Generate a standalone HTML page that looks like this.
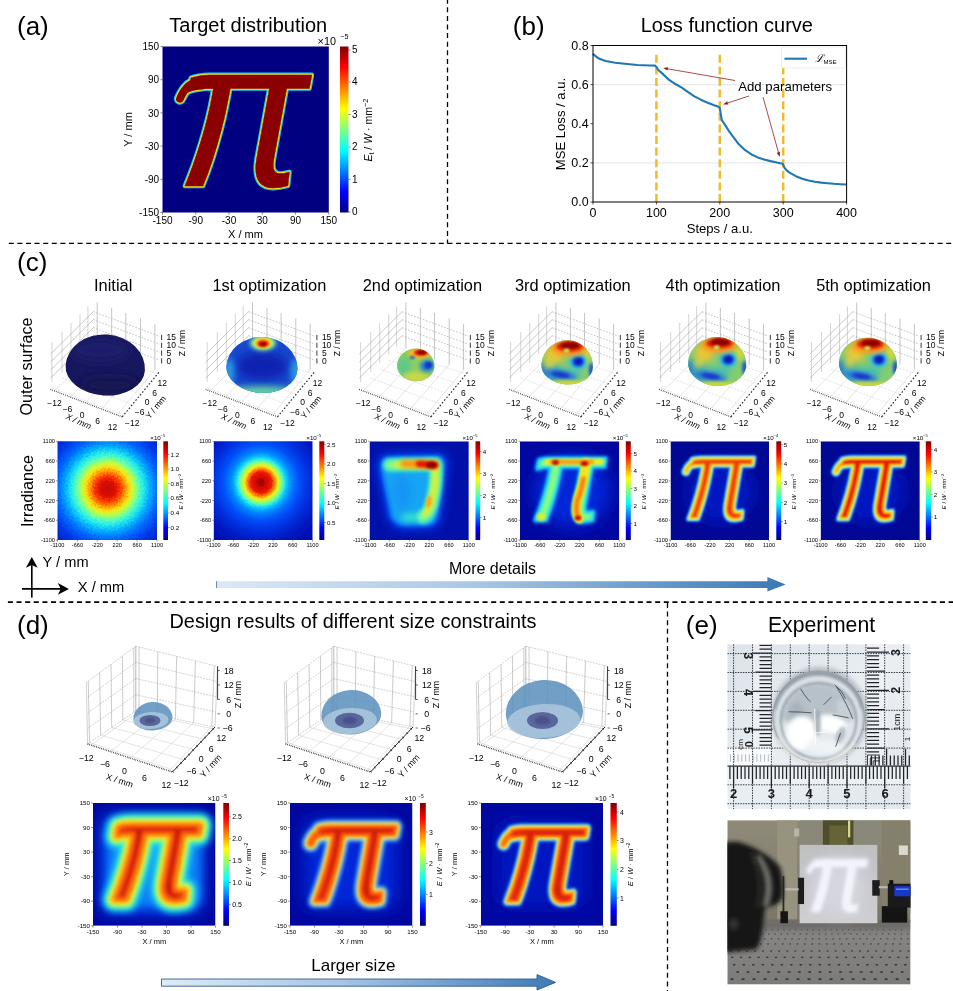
<!DOCTYPE html>
<html lang="en"><head><meta charset="utf-8"><title>Figure</title>
<style>
html,body{margin:0;padding:0;background:#fff;}
body{width:953px;height:991px;overflow:hidden;}
svg{display:block;font-family:'Liberation Sans',sans-serif;}
text{white-space:pre;}
</style></head><body>
<svg width="953" height="991" viewBox="0 0 953 991">
<defs>
<linearGradient id="jetv" x1="0" y1="1" x2="0" y2="0">
<stop offset="0" stop-color="#000080"/><stop offset="0.11" stop-color="#0000f0"/><stop offset="0.125" stop-color="#0000ff"/>
<stop offset="0.25" stop-color="#0080ff"/><stop offset="0.375" stop-color="#00ffff"/><stop offset="0.5" stop-color="#80ff80"/>
<stop offset="0.625" stop-color="#ffff00"/><stop offset="0.75" stop-color="#ff8000"/><stop offset="0.875" stop-color="#ff0000"/><stop offset="1" stop-color="#800000"/>
</linearGradient>
<filter id="b04" filterUnits="userSpaceOnUse" x="0" y="0" width="953" height="991"><feGaussianBlur stdDeviation="0.45"/></filter>
<filter id="b1" filterUnits="userSpaceOnUse" x="0" y="0" width="953" height="991"><feGaussianBlur stdDeviation="1"/></filter>
<filter id="b15" filterUnits="userSpaceOnUse" x="0" y="0" width="953" height="991"><feGaussianBlur stdDeviation="1.5"/></filter>
<filter id="b2" filterUnits="userSpaceOnUse" x="0" y="0" width="953" height="991"><feGaussianBlur stdDeviation="2"/></filter>
<filter id="b3" filterUnits="userSpaceOnUse" x="0" y="0" width="953" height="991"><feGaussianBlur stdDeviation="3"/></filter>
<filter id="b5" filterUnits="userSpaceOnUse" x="0" y="0" width="953" height="991"><feGaussianBlur stdDeviation="5"/></filter>
<filter id="b8" filterUnits="userSpaceOnUse" x="0" y="0" width="953" height="991"><feGaussianBlur stdDeviation="8"/></filter>
<radialGradient id="rg1" gradientUnits="userSpaceOnUse" cx="107.5" cy="488.8" r="72"><stop offset="0.000" stop-color="#c00808"/><stop offset="0.111" stop-color="#dc1000"/><stop offset="0.181" stop-color="#ff3800"/><stop offset="0.243" stop-color="#ff9000"/><stop offset="0.306" stop-color="#ffe010"/><stop offset="0.361" stop-color="#c0ff40"/><stop offset="0.417" stop-color="#70ffa0"/><stop offset="0.493" stop-color="#28f0e8"/><stop offset="0.597" stop-color="#00a8ff"/><stop offset="0.694" stop-color="#0068ff"/><stop offset="0.833" stop-color="#0038e8"/><stop offset="1.000" stop-color="#0020c8"/></radialGradient>
<filter id="nzrg1" filterUnits="userSpaceOnUse" x="45.5" y="429.3" width="123.5" height="122.69999999999999"><feTurbulence type="fractalNoise" baseFrequency="0.55" numOctaves="2" seed="7" result="n"/><feDisplacementMap in="SourceGraphic" in2="n" scale="7" xChannelSelector="R" yChannelSelector="G"/></filter>
<radialGradient id="rg2" gradientUnits="userSpaceOnUse" cx="261" cy="482.5" r="75"><stop offset="0.000" stop-color="#980000"/><stop offset="0.067" stop-color="#c80800"/><stop offset="0.140" stop-color="#f01800"/><stop offset="0.180" stop-color="#ff8000"/><stop offset="0.220" stop-color="#ffe818"/><stop offset="0.260" stop-color="#a0ff60"/><stop offset="0.300" stop-color="#40f8d0"/><stop offset="0.347" stop-color="#08c0ff"/><stop offset="0.413" stop-color="#0080ff"/><stop offset="0.507" stop-color="#0050f8"/><stop offset="0.640" stop-color="#0030e0"/><stop offset="0.800" stop-color="#0018c0"/><stop offset="1.000" stop-color="#0008a8"/></radialGradient>
<filter id="nzrg2" filterUnits="userSpaceOnUse" x="201.8" y="429.3" width="122.69999999999999" height="122.69999999999999"><feTurbulence type="fractalNoise" baseFrequency="0.55" numOctaves="2" seed="7" result="n"/><feDisplacementMap in="SourceGraphic" in2="n" scale="2.5" xChannelSelector="R" yChannelSelector="G"/></filter>
<filter id="er15" filterUnits="userSpaceOnUse" x="0" y="0" width="953" height="991"><feMorphology operator="erode" radius="1.5"/></filter>
<filter id="er8" filterUnits="userSpaceOnUse" x="0" y="0" width="953" height="991"><feMorphology operator="erode" radius="0.8"/></filter>
<filter id="er18" filterUnits="userSpaceOnUse" x="0" y="0" width="953" height="991"><feMorphology operator="erode" radius="1.8"/></filter>
<filter id="er6" filterUnits="userSpaceOnUse" x="0" y="0" width="953" height="991"><feMorphology operator="erode" radius="0.6"/></filter>
<linearGradient id="ga1" x1="0" y1="0" x2="1" y2="0"><stop offset="0" stop-color="#dce8f4"/><stop offset="0.45" stop-color="#a9c8e6"/><stop offset="1" stop-color="#3a78b4"/></linearGradient>
<filter id="er38" filterUnits="userSpaceOnUse" x="0" y="0" width="953" height="991"><feMorphology operator="erode" radius="3.75"/></filter>
<filter id="er16" filterUnits="userSpaceOnUse" x="0" y="0" width="953" height="991"><feMorphology operator="erode" radius="1.6"/></filter>
<filter id="er35" filterUnits="userSpaceOnUse" x="0" y="0" width="953" height="991"><feMorphology operator="erode" radius="3.5"/></filter>
<filter id="er20" filterUnits="userSpaceOnUse" x="0" y="0" width="953" height="991"><feMorphology operator="erode" radius="2.0"/></filter>
<linearGradient id="ga2" x1="0" y1="0" x2="1" y2="0"><stop offset="0" stop-color="#dfeaf6"/><stop offset="0.45" stop-color="#a8c6e4"/><stop offset="1" stop-color="#3d7ab6"/></linearGradient>
<linearGradient id="pg1" x1="0" y1="0" x2="1" y2="1"><stop offset="0" stop-color="#dce3e9"/><stop offset="0.5" stop-color="#e9eef2"/><stop offset="1" stop-color="#e1e7ec"/></linearGradient>
<radialGradient id="lens1" gradientUnits="userSpaceOnUse" cx="818.6" cy="719.8" r="46.2"><stop offset="0" stop-color="#eef2f5"/><stop offset="0.6" stop-color="#e3e8ec"/><stop offset="0.8" stop-color="#cdd4da"/><stop offset="0.9" stop-color="#dde2e6"/><stop offset="0.97" stop-color="#bcc4cb"/><stop offset="1" stop-color="#a4adb5"/></radialGradient>
<linearGradient id="wall" x1="0" y1="0" x2="0" y2="1"><stop offset="0" stop-color="#8f8a78"/><stop offset="1" stop-color="#7a766a"/></linearGradient>
<linearGradient id="floor" x1="0" y1="0" x2="0" y2="1"><stop offset="0" stop-color="#6f6e6a"/><stop offset="0.25" stop-color="#858482"/><stop offset="1" stop-color="#7c7b79"/></linearGradient>
<linearGradient id="scr" x1="0" y1="0" x2="0" y2="1"><stop offset="0" stop-color="#bfc0c2"/><stop offset="1" stop-color="#cfcfd2"/></linearGradient></defs>
<rect width="953" height="991" fill="#fff"/>
<text x="17.00" y="34.60" font-size="26">(a)</text>
<text x="248.30" y="32.20" font-size="20" text-anchor="middle">Target distribution</text>
<clipPath id="ca"><rect x="162.50" y="46.50" width="166.30" height="166.00"/></clipPath>
<rect x="162.50" y="46.50" width="166.30" height="166.00" fill="#000080" />
<g clip-path="url(#ca)">
<g filter="url(#b04)" font-family="'Liberation Sans', sans-serif" font-style="italic" font-size="210.28" stroke-linejoin="round" stroke-linecap="round" >
<g fill="#19c6e8" stroke="#19c6e8" stroke-width="4.8">
<text transform="translate(176.07 185.95) scale(0.9436 1)">π</text>
<path d="M200.12 81.86 Q187.52 81.25 179.96 98.69" fill="none" stroke="#19c6e8" stroke-width="12.16"/>
</g>
<g fill="#e8e020" stroke="#e8e020" stroke-width="2.6">
<text transform="translate(176.07 185.95) scale(0.9436 1)">π</text>
<path d="M200.12 81.86 Q187.52 81.25 179.96 98.69" fill="none" stroke="#e8e020" stroke-width="9.96"/>
</g>
<g fill="#8a0000" stroke="#8a0000" stroke-width="0.4">
<text transform="translate(176.07 185.95) scale(0.9436 1)">π</text>
<path d="M200.12 81.86 Q187.52 81.25 179.96 98.69" fill="none" stroke="#8a0000" stroke-width="7.76"/>
</g>
</g>
</g>
<text x="159.10" y="50.10" font-size="10" text-anchor="end">150</text>
<line x1="160.50" y1="46.50" x2="162.50" y2="46.50" stroke="#000" stroke-width="0.5" />
<text x="328.80" y="224.30" font-size="10" text-anchor="middle">150</text>
<line x1="328.80" y1="212.50" x2="328.80" y2="214.50" stroke="#000" stroke-width="0.5" />
<text x="159.10" y="83.30" font-size="10" text-anchor="end">90</text>
<line x1="160.50" y1="79.70" x2="162.50" y2="79.70" stroke="#000" stroke-width="0.5" />
<text x="295.54" y="224.30" font-size="10" text-anchor="middle">90</text>
<line x1="295.54" y1="212.50" x2="295.54" y2="214.50" stroke="#000" stroke-width="0.5" />
<text x="159.10" y="116.50" font-size="10" text-anchor="end">30</text>
<line x1="160.50" y1="112.90" x2="162.50" y2="112.90" stroke="#000" stroke-width="0.5" />
<text x="262.28" y="224.30" font-size="10" text-anchor="middle">30</text>
<line x1="262.28" y1="212.50" x2="262.28" y2="214.50" stroke="#000" stroke-width="0.5" />
<text x="159.10" y="149.70" font-size="10" text-anchor="end">-30</text>
<line x1="160.50" y1="146.10" x2="162.50" y2="146.10" stroke="#000" stroke-width="0.5" />
<text x="229.02" y="224.30" font-size="10" text-anchor="middle">-30</text>
<line x1="229.02" y1="212.50" x2="229.02" y2="214.50" stroke="#000" stroke-width="0.5" />
<text x="159.10" y="182.90" font-size="10" text-anchor="end">-90</text>
<line x1="160.50" y1="179.30" x2="162.50" y2="179.30" stroke="#000" stroke-width="0.5" />
<text x="195.76" y="224.30" font-size="10" text-anchor="middle">-90</text>
<line x1="195.76" y1="212.50" x2="195.76" y2="214.50" stroke="#000" stroke-width="0.5" />
<text x="159.10" y="216.10" font-size="10" text-anchor="end">-150</text>
<line x1="160.50" y1="212.50" x2="162.50" y2="212.50" stroke="#000" stroke-width="0.5" />
<text x="162.50" y="224.30" font-size="10" text-anchor="middle">-150</text>
<line x1="162.50" y1="212.50" x2="162.50" y2="214.50" stroke="#000" stroke-width="0.5" />
<text x="131.50" y="129.50" font-size="11" text-anchor="middle" transform="rotate(-90 131.50 129.50)">Y / mm</text>
<text x="245.50" y="237.60" font-size="11" text-anchor="middle">X / mm</text>
<rect x="340.00" y="46.50" width="8.50" height="166.00" fill="url(#jetv)" />
<line x1="348.50" y1="50.00" x2="350.50" y2="50.00" stroke="#000" stroke-width="0.5" />
<text x="352.10" y="53.30" font-size="10">5</text>
<line x1="348.50" y1="82.00" x2="350.50" y2="82.00" stroke="#000" stroke-width="0.5" />
<text x="352.10" y="85.30" font-size="10">4</text>
<line x1="348.50" y1="114.50" x2="350.50" y2="114.50" stroke="#000" stroke-width="0.5" />
<text x="352.10" y="117.80" font-size="10">3</text>
<line x1="348.50" y1="147.00" x2="350.50" y2="147.00" stroke="#000" stroke-width="0.5" />
<text x="352.10" y="150.30" font-size="10">2</text>
<line x1="348.50" y1="179.30" x2="350.50" y2="179.30" stroke="#000" stroke-width="0.5" />
<text x="352.10" y="182.60" font-size="10">1</text>
<line x1="348.50" y1="212.00" x2="350.50" y2="212.00" stroke="#000" stroke-width="0.5" />
<text x="352.10" y="215.30" font-size="10">0</text>
<text x="317.60" y="45.20" font-size="10.8">×10</text>
<text x="340.20" y="39.00" font-size="7.2">−5</text>
<text transform="translate(372.3 130) rotate(-90)" font-size="10.5" text-anchor="middle"><tspan font-style="italic">E</tspan><tspan font-size="7" dy="2">t</tspan><tspan dy="-2"> / </tspan><tspan font-style="italic">W</tspan> · mm<tspan font-size="7.5" dy="-4">−2</tspan></text>
<line x1="8.80" y1="243.40" x2="953.00" y2="243.40" stroke="#000" stroke-width="1.3" stroke-dasharray="5 3.6"/>
<line x1="447.50" y1="-1.30" x2="447.50" y2="243.50" stroke="#000" stroke-width="1.3" stroke-dasharray="5 3.6"/>
<text x="512.80" y="34.60" font-size="26">(b)</text>
<text x="726.80" y="32.20" font-size="20" text-anchor="middle">Loss function curve</text>
<line x1="593.00" y1="162.88" x2="846.60" y2="162.88" stroke="#dcdcdc" stroke-width="0.8" />
<line x1="593.00" y1="84.63" x2="846.60" y2="84.63" stroke="#dcdcdc" stroke-width="0.8" />
<line x1="656.40" y1="202.00" x2="656.40" y2="52.50" stroke="#f2b92c" stroke-width="2.5" stroke-dasharray="8 3.6"/>
<line x1="719.80" y1="202.00" x2="719.80" y2="52.50" stroke="#f2b92c" stroke-width="2.5" stroke-dasharray="8 3.6"/>
<line x1="783.20" y1="202.00" x2="783.20" y2="52.50" stroke="#f2b92c" stroke-width="2.5" stroke-dasharray="8 3.6"/>
<path d="M593.00 53.72 L594.90 55.67 L599.34 58.80 L605.68 60.95 L615.19 62.72 L624.70 63.69 L637.38 65.06 L650.06 65.45 L655.13 65.65 L656.40 67.02 L658.30 69.95 L662.74 73.87 L669.08 79.93 L675.42 84.04 L681.76 87.56 L688.10 92.06 L694.44 96.36 L700.78 99.69 L707.12 102.43 L713.46 104.97 L718.53 106.73 L719.80 108.10 L720.43 112.01 L721.70 119.84 L723.60 122.77 L726.14 126.68 L729.31 131.57 L732.48 135.88 L738.82 144.29 L745.16 150.16 L751.50 154.46 L757.84 157.40 L764.18 159.55 L770.52 161.11 L776.86 162.48 L782.57 163.66 L783.20 164.83 L784.47 167.77 L786.37 170.11 L789.54 172.66 L795.88 176.18 L802.22 178.72 L808.56 180.48 L814.90 181.75 L821.24 182.63 L827.58 183.22 L833.92 183.81 L840.26 184.20 L846.60 184.49" fill="none" stroke="#1f77b4" stroke-width="2.1" stroke-linejoin="round"/>
<rect x="781.50" y="47.00" width="64.30" height="21.00" fill="#fff" stroke="#e4e4e4" stroke-width="0.7" rx="1.5"/>
<line x1="784.50" y1="58.70" x2="807.00" y2="58.70" stroke="#1f77b4" stroke-width="2.1" />
<text x="814.5" y="62" font-size="10.5" font-family="'Liberation Serif', serif" font-style="italic">ℒ<tspan font-family="'Liberation Sans', sans-serif" font-style="normal" font-size="6" dy="2">MSE</tspan></text>
<rect x="593.00" y="45.50" width="253.60" height="156.50" fill="none" stroke="#000" stroke-width="1.0" />
<line x1="590.50" y1="202.00" x2="593.00" y2="202.00" stroke="#000" stroke-width="0.7" />
<text x="588.60" y="206.40" font-size="12.5" text-anchor="end">0.0</text>
<line x1="590.50" y1="162.88" x2="593.00" y2="162.88" stroke="#000" stroke-width="0.7" />
<text x="588.60" y="167.28" font-size="12.5" text-anchor="end">0.2</text>
<line x1="590.50" y1="123.75" x2="593.00" y2="123.75" stroke="#000" stroke-width="0.7" />
<text x="588.60" y="128.15" font-size="12.5" text-anchor="end">0.4</text>
<line x1="590.50" y1="84.63" x2="593.00" y2="84.63" stroke="#000" stroke-width="0.7" />
<text x="588.60" y="89.03" font-size="12.5" text-anchor="end">0.6</text>
<line x1="590.50" y1="45.50" x2="593.00" y2="45.50" stroke="#000" stroke-width="0.7" />
<text x="588.60" y="49.90" font-size="12.5" text-anchor="end">0.8</text>
<line x1="593.00" y1="202.00" x2="593.00" y2="204.50" stroke="#000" stroke-width="0.7" />
<text x="593.00" y="216.80" font-size="12.5" text-anchor="middle">0</text>
<line x1="656.40" y1="202.00" x2="656.40" y2="204.50" stroke="#000" stroke-width="0.7" />
<text x="656.40" y="216.80" font-size="12.5" text-anchor="middle">100</text>
<line x1="719.80" y1="202.00" x2="719.80" y2="204.50" stroke="#000" stroke-width="0.7" />
<text x="719.80" y="216.80" font-size="12.5" text-anchor="middle">200</text>
<line x1="783.20" y1="202.00" x2="783.20" y2="204.50" stroke="#000" stroke-width="0.7" />
<text x="783.20" y="216.80" font-size="12.5" text-anchor="middle">300</text>
<line x1="846.60" y1="202.00" x2="846.60" y2="204.50" stroke="#000" stroke-width="0.7" />
<text x="846.60" y="216.80" font-size="12.5" text-anchor="middle">400</text>
<text x="565.30" y="124.00" font-size="13.1" text-anchor="middle" transform="rotate(-90 565.30 124.00)">MSE Loss / a.u.</text>
<text x="719.80" y="232.80" font-size="13.1" text-anchor="middle">Steps / a.u.</text>
<text x="738.20" y="90.50" font-size="13.2">Add parameters</text>
<line x1="735.00" y1="80.50" x2="667.93" y2="68.86" stroke="#9c1c1c" stroke-width="0.8" />
<polygon points="663.00,68.00 668.22,67.18 667.64,70.53" fill="#9c1c1c"/>
<line x1="749.00" y1="96.00" x2="727.75" y2="102.95" stroke="#9c1c1c" stroke-width="0.8" />
<polygon points="723.00,104.50 727.22,101.33 728.28,104.56" fill="#9c1c1c"/>
<line x1="763.00" y1="97.00" x2="778.36" y2="152.18" stroke="#9c1c1c" stroke-width="0.8" />
<polygon points="779.70,157.00 776.72,152.64 780.00,151.73" fill="#9c1c1c"/>
<text x="17.00" y="270.60" font-size="26">(c)</text>
<text x="113.20" y="291.00" font-size="16.4" text-anchor="middle">Initial</text>
<text x="269.40" y="291.00" font-size="16.4" text-anchor="middle">1st optimization</text>
<text x="422.40" y="291.00" font-size="16.4" text-anchor="middle">2nd optimization</text>
<text x="572.80" y="291.00" font-size="16.4" text-anchor="middle">3rd optimization</text>
<text x="723.00" y="291.00" font-size="16.4" text-anchor="middle">4th optimization</text>
<text x="873.60" y="291.00" font-size="16.4" text-anchor="middle">5th optimization</text>
<text x="31.50" y="366.50" font-size="16.2" text-anchor="middle" transform="rotate(-90 31.50 366.50)">Outer surface</text>
<text x="32.50" y="491.00" font-size="16.2" text-anchor="middle" transform="rotate(-90 32.50 491.00)">Irradiance</text>
<g fill="none"><line x1="54.73" y1="391.02" x2="97.21" y2="348.45" stroke="#cfcfcf" stroke-width="0.55"/><line x1="70.36" y1="397.02" x2="111.67" y2="353.79" stroke="#cfcfcf" stroke-width="0.55"/><line x1="85.63" y1="402.88" x2="125.79" y2="359.00" stroke="#cfcfcf" stroke-width="0.55"/><line x1="101.55" y1="408.98" x2="140.51" y2="364.44" stroke="#cfcfcf" stroke-width="0.55"/><line x1="117.11" y1="414.95" x2="154.89" y2="369.76" stroke="#cfcfcf" stroke-width="0.55"/><line x1="51.91" y1="388.00" x2="123.70" y2="415.08" stroke="#cfcfcf" stroke-width="0.55" stroke-dasharray="2.2 1.2"/><line x1="62.01" y1="377.99" x2="132.30" y2="404.64" stroke="#cfcfcf" stroke-width="0.55" stroke-dasharray="2.2 1.2"/><line x1="71.00" y1="369.09" x2="140.90" y2="394.20" stroke="#cfcfcf" stroke-width="0.55" stroke-dasharray="2.2 1.2"/><line x1="79.99" y1="360.19" x2="149.50" y2="383.76" stroke="#cfcfcf" stroke-width="0.55" stroke-dasharray="2.2 1.2"/><line x1="87.91" y1="352.34" x2="157.73" y2="373.77" stroke="#cfcfcf" stroke-width="0.55" stroke-dasharray="2.2 1.2"/><line x1="51.91" y1="382.00" x2="51.91" y2="342.00" stroke="#c2c2c2" stroke-width="0.7"/><line x1="62.01" y1="371.99" x2="62.01" y2="331.99" stroke="#c2c2c2" stroke-width="0.7"/><line x1="71.00" y1="363.09" x2="71.00" y2="323.09" stroke="#c2c2c2" stroke-width="0.7"/><line x1="79.99" y1="354.19" x2="79.99" y2="314.19" stroke="#c2c2c2" stroke-width="0.7"/><line x1="87.91" y1="346.34" x2="87.91" y2="306.34" stroke="#c2c2c2" stroke-width="0.7"/><line x1="97.21" y1="348.45" x2="97.21" y2="302.45" stroke="#b2b2b2" stroke-width="0.75"/><line x1="111.67" y1="353.79" x2="111.67" y2="307.79" stroke="#b2b2b2" stroke-width="0.75"/><line x1="125.79" y1="359.00" x2="125.79" y2="313.00" stroke="#b2b2b2" stroke-width="0.75"/><line x1="140.51" y1="364.44" x2="140.51" y2="318.44" stroke="#b2b2b2" stroke-width="0.75"/><line x1="154.89" y1="369.76" x2="154.89" y2="323.76" stroke="#b2b2b2" stroke-width="0.75"/><line x1="93.30" y1="335.70" x2="50.50" y2="378.10" stroke="#a2a2a2" stroke-width="0.6"/><line x1="93.30" y1="335.70" x2="159.60" y2="360.20" stroke="#9c9c9c" stroke-width="0.6" stroke-dasharray="1.7 1.5"/><line x1="93.30" y1="327.70" x2="50.50" y2="370.10" stroke="#a2a2a2" stroke-width="0.6"/><line x1="93.30" y1="327.70" x2="159.60" y2="352.20" stroke="#9c9c9c" stroke-width="0.6" stroke-dasharray="1.7 1.5"/><line x1="93.30" y1="319.70" x2="50.50" y2="362.10" stroke="#a2a2a2" stroke-width="0.6"/><line x1="93.30" y1="319.70" x2="159.60" y2="344.20" stroke="#9c9c9c" stroke-width="0.6" stroke-dasharray="1.7 1.5"/><line x1="93.30" y1="311.70" x2="50.50" y2="354.10" stroke="#a2a2a2" stroke-width="0.6"/><line x1="93.30" y1="311.70" x2="159.60" y2="336.20" stroke="#9c9c9c" stroke-width="0.6" stroke-dasharray="1.7 1.5"/><line x1="50.50" y1="389.40" x2="122.20" y2="416.90" stroke="#222" stroke-width="1.3" stroke-dasharray="0.7 1.25"/><line x1="122.20" y1="416.90" x2="159.60" y2="371.50" stroke="#222" stroke-width="1.1" stroke-dasharray="1.6 1.9"/><line x1="161.60" y1="363.50" x2="161.60" y2="332.50" stroke="#222" stroke-width="0.9" stroke-dasharray="5.2 2.6"/></g>
<text x="166.60" y="340.00" font-size="8.5">15</text>
<text x="166.60" y="348.00" font-size="8.5">10</text>
<text x="166.60" y="356.00" font-size="8.5">5</text>
<text x="166.60" y="364.00" font-size="8.5">0</text>
<text x="184.80" y="343.00" font-size="8.5" text-anchor="middle" transform="rotate(-90 184.80 343.00)">Z / mm</text>
<text x="54.50" y="405.75" font-size="8.5" text-anchor="middle">−12</text>
<text x="67.50" y="411.50" font-size="8.5" text-anchor="middle">−6</text>
<text x="82.00" y="417.50" font-size="8.5" text-anchor="middle">0</text>
<text x="97.50" y="423.50" font-size="8.5" text-anchor="middle">6</text>
<text x="112.50" y="429.50" font-size="8.5" text-anchor="middle">12</text>
<text x="77.50" y="424.00" font-size="8.5" text-anchor="middle" transform="rotate(24 77.50 424.00)" font-style="italic">X / mm</text>
<text x="132.20" y="426.00" font-size="8.5" text-anchor="middle">−12</text>
<text x="139.70" y="415.00" font-size="8.5" text-anchor="middle">−6</text>
<text x="147.20" y="405.00" font-size="8.5" text-anchor="middle">0</text>
<text x="154.70" y="396.00" font-size="8.5" text-anchor="middle">6</text>
<text x="162.20" y="385.50" font-size="8.5" text-anchor="middle">12</text>
<text x="158.00" y="409.00" font-size="8.5" text-anchor="middle" transform="rotate(-50 158.00 409.00)">Y / mm</text>
<g fill="none"><line x1="210.03" y1="391.02" x2="252.51" y2="348.45" stroke="#cfcfcf" stroke-width="0.55"/><line x1="225.66" y1="397.02" x2="266.97" y2="353.79" stroke="#cfcfcf" stroke-width="0.55"/><line x1="240.93" y1="402.88" x2="281.09" y2="359.00" stroke="#cfcfcf" stroke-width="0.55"/><line x1="256.85" y1="408.98" x2="295.81" y2="364.44" stroke="#cfcfcf" stroke-width="0.55"/><line x1="272.41" y1="414.95" x2="310.19" y2="369.76" stroke="#cfcfcf" stroke-width="0.55"/><line x1="207.21" y1="388.00" x2="279.00" y2="415.08" stroke="#cfcfcf" stroke-width="0.55" stroke-dasharray="2.2 1.2"/><line x1="217.31" y1="377.99" x2="287.60" y2="404.64" stroke="#cfcfcf" stroke-width="0.55" stroke-dasharray="2.2 1.2"/><line x1="226.30" y1="369.09" x2="296.20" y2="394.20" stroke="#cfcfcf" stroke-width="0.55" stroke-dasharray="2.2 1.2"/><line x1="235.29" y1="360.19" x2="304.80" y2="383.76" stroke="#cfcfcf" stroke-width="0.55" stroke-dasharray="2.2 1.2"/><line x1="243.21" y1="352.34" x2="313.03" y2="373.77" stroke="#cfcfcf" stroke-width="0.55" stroke-dasharray="2.2 1.2"/><line x1="207.21" y1="382.00" x2="207.21" y2="342.00" stroke="#c2c2c2" stroke-width="0.7"/><line x1="217.31" y1="371.99" x2="217.31" y2="331.99" stroke="#c2c2c2" stroke-width="0.7"/><line x1="226.30" y1="363.09" x2="226.30" y2="323.09" stroke="#c2c2c2" stroke-width="0.7"/><line x1="235.29" y1="354.19" x2="235.29" y2="314.19" stroke="#c2c2c2" stroke-width="0.7"/><line x1="243.21" y1="346.34" x2="243.21" y2="306.34" stroke="#c2c2c2" stroke-width="0.7"/><line x1="252.51" y1="348.45" x2="252.51" y2="302.45" stroke="#b2b2b2" stroke-width="0.75"/><line x1="266.97" y1="353.79" x2="266.97" y2="307.79" stroke="#b2b2b2" stroke-width="0.75"/><line x1="281.09" y1="359.00" x2="281.09" y2="313.00" stroke="#b2b2b2" stroke-width="0.75"/><line x1="295.81" y1="364.44" x2="295.81" y2="318.44" stroke="#b2b2b2" stroke-width="0.75"/><line x1="310.19" y1="369.76" x2="310.19" y2="323.76" stroke="#b2b2b2" stroke-width="0.75"/><line x1="248.60" y1="335.70" x2="205.80" y2="378.10" stroke="#a2a2a2" stroke-width="0.6"/><line x1="248.60" y1="335.70" x2="314.90" y2="360.20" stroke="#9c9c9c" stroke-width="0.6" stroke-dasharray="1.7 1.5"/><line x1="248.60" y1="327.70" x2="205.80" y2="370.10" stroke="#a2a2a2" stroke-width="0.6"/><line x1="248.60" y1="327.70" x2="314.90" y2="352.20" stroke="#9c9c9c" stroke-width="0.6" stroke-dasharray="1.7 1.5"/><line x1="248.60" y1="319.70" x2="205.80" y2="362.10" stroke="#a2a2a2" stroke-width="0.6"/><line x1="248.60" y1="319.70" x2="314.90" y2="344.20" stroke="#9c9c9c" stroke-width="0.6" stroke-dasharray="1.7 1.5"/><line x1="248.60" y1="311.70" x2="205.80" y2="354.10" stroke="#a2a2a2" stroke-width="0.6"/><line x1="248.60" y1="311.70" x2="314.90" y2="336.20" stroke="#9c9c9c" stroke-width="0.6" stroke-dasharray="1.7 1.5"/><line x1="205.80" y1="389.40" x2="277.50" y2="416.90" stroke="#222" stroke-width="1.3" stroke-dasharray="0.7 1.25"/><line x1="277.50" y1="416.90" x2="314.90" y2="371.50" stroke="#222" stroke-width="1.1" stroke-dasharray="1.6 1.9"/><line x1="316.90" y1="363.50" x2="316.90" y2="332.50" stroke="#222" stroke-width="0.9" stroke-dasharray="5.2 2.6"/></g>
<text x="321.90" y="340.00" font-size="8.5">15</text>
<text x="321.90" y="348.00" font-size="8.5">10</text>
<text x="321.90" y="356.00" font-size="8.5">5</text>
<text x="321.90" y="364.00" font-size="8.5">0</text>
<text x="340.10" y="343.00" font-size="8.5" text-anchor="middle" transform="rotate(-90 340.10 343.00)">Z / mm</text>
<text x="209.80" y="405.75" font-size="8.5" text-anchor="middle">−12</text>
<text x="222.80" y="411.50" font-size="8.5" text-anchor="middle">−6</text>
<text x="237.30" y="417.50" font-size="8.5" text-anchor="middle">0</text>
<text x="252.80" y="423.50" font-size="8.5" text-anchor="middle">6</text>
<text x="267.80" y="429.50" font-size="8.5" text-anchor="middle">12</text>
<text x="232.80" y="424.00" font-size="8.5" text-anchor="middle" transform="rotate(24 232.80 424.00)" font-style="italic">X / mm</text>
<text x="287.50" y="426.00" font-size="8.5" text-anchor="middle">−12</text>
<text x="295.00" y="415.00" font-size="8.5" text-anchor="middle">−6</text>
<text x="302.50" y="405.00" font-size="8.5" text-anchor="middle">0</text>
<text x="310.00" y="396.00" font-size="8.5" text-anchor="middle">6</text>
<text x="317.50" y="385.50" font-size="8.5" text-anchor="middle">12</text>
<text x="313.30" y="409.00" font-size="8.5" text-anchor="middle" transform="rotate(-50 313.30 409.00)">Y / mm</text>
<g fill="none"><line x1="363.43" y1="391.02" x2="405.91" y2="348.45" stroke="#cfcfcf" stroke-width="0.55"/><line x1="379.06" y1="397.02" x2="420.37" y2="353.79" stroke="#cfcfcf" stroke-width="0.55"/><line x1="394.33" y1="402.88" x2="434.49" y2="359.00" stroke="#cfcfcf" stroke-width="0.55"/><line x1="410.25" y1="408.98" x2="449.21" y2="364.44" stroke="#cfcfcf" stroke-width="0.55"/><line x1="425.81" y1="414.95" x2="463.59" y2="369.76" stroke="#cfcfcf" stroke-width="0.55"/><line x1="360.61" y1="388.00" x2="432.40" y2="415.08" stroke="#cfcfcf" stroke-width="0.55" stroke-dasharray="2.2 1.2"/><line x1="370.71" y1="377.99" x2="441.00" y2="404.64" stroke="#cfcfcf" stroke-width="0.55" stroke-dasharray="2.2 1.2"/><line x1="379.70" y1="369.09" x2="449.60" y2="394.20" stroke="#cfcfcf" stroke-width="0.55" stroke-dasharray="2.2 1.2"/><line x1="388.69" y1="360.19" x2="458.20" y2="383.76" stroke="#cfcfcf" stroke-width="0.55" stroke-dasharray="2.2 1.2"/><line x1="396.61" y1="352.34" x2="466.43" y2="373.77" stroke="#cfcfcf" stroke-width="0.55" stroke-dasharray="2.2 1.2"/><line x1="360.61" y1="382.00" x2="360.61" y2="342.00" stroke="#c2c2c2" stroke-width="0.7"/><line x1="370.71" y1="371.99" x2="370.71" y2="331.99" stroke="#c2c2c2" stroke-width="0.7"/><line x1="379.70" y1="363.09" x2="379.70" y2="323.09" stroke="#c2c2c2" stroke-width="0.7"/><line x1="388.69" y1="354.19" x2="388.69" y2="314.19" stroke="#c2c2c2" stroke-width="0.7"/><line x1="396.61" y1="346.34" x2="396.61" y2="306.34" stroke="#c2c2c2" stroke-width="0.7"/><line x1="405.91" y1="348.45" x2="405.91" y2="302.45" stroke="#b2b2b2" stroke-width="0.75"/><line x1="420.37" y1="353.79" x2="420.37" y2="307.79" stroke="#b2b2b2" stroke-width="0.75"/><line x1="434.49" y1="359.00" x2="434.49" y2="313.00" stroke="#b2b2b2" stroke-width="0.75"/><line x1="449.21" y1="364.44" x2="449.21" y2="318.44" stroke="#b2b2b2" stroke-width="0.75"/><line x1="463.59" y1="369.76" x2="463.59" y2="323.76" stroke="#b2b2b2" stroke-width="0.75"/><line x1="402.00" y1="335.70" x2="359.20" y2="378.10" stroke="#a2a2a2" stroke-width="0.6"/><line x1="402.00" y1="335.70" x2="468.30" y2="360.20" stroke="#9c9c9c" stroke-width="0.6" stroke-dasharray="1.7 1.5"/><line x1="402.00" y1="327.70" x2="359.20" y2="370.10" stroke="#a2a2a2" stroke-width="0.6"/><line x1="402.00" y1="327.70" x2="468.30" y2="352.20" stroke="#9c9c9c" stroke-width="0.6" stroke-dasharray="1.7 1.5"/><line x1="402.00" y1="319.70" x2="359.20" y2="362.10" stroke="#a2a2a2" stroke-width="0.6"/><line x1="402.00" y1="319.70" x2="468.30" y2="344.20" stroke="#9c9c9c" stroke-width="0.6" stroke-dasharray="1.7 1.5"/><line x1="402.00" y1="311.70" x2="359.20" y2="354.10" stroke="#a2a2a2" stroke-width="0.6"/><line x1="402.00" y1="311.70" x2="468.30" y2="336.20" stroke="#9c9c9c" stroke-width="0.6" stroke-dasharray="1.7 1.5"/><line x1="359.20" y1="389.40" x2="430.90" y2="416.90" stroke="#222" stroke-width="1.3" stroke-dasharray="0.7 1.25"/><line x1="430.90" y1="416.90" x2="468.30" y2="371.50" stroke="#222" stroke-width="1.1" stroke-dasharray="1.6 1.9"/><line x1="470.30" y1="363.50" x2="470.30" y2="332.50" stroke="#222" stroke-width="0.9" stroke-dasharray="5.2 2.6"/></g>
<text x="475.30" y="340.00" font-size="8.5">15</text>
<text x="475.30" y="348.00" font-size="8.5">10</text>
<text x="475.30" y="356.00" font-size="8.5">5</text>
<text x="475.30" y="364.00" font-size="8.5">0</text>
<text x="493.50" y="343.00" font-size="8.5" text-anchor="middle" transform="rotate(-90 493.50 343.00)">Z / mm</text>
<text x="363.20" y="405.75" font-size="8.5" text-anchor="middle">−12</text>
<text x="376.20" y="411.50" font-size="8.5" text-anchor="middle">−6</text>
<text x="390.70" y="417.50" font-size="8.5" text-anchor="middle">0</text>
<text x="406.20" y="423.50" font-size="8.5" text-anchor="middle">6</text>
<text x="421.20" y="429.50" font-size="8.5" text-anchor="middle">12</text>
<text x="386.20" y="424.00" font-size="8.5" text-anchor="middle" transform="rotate(24 386.20 424.00)" font-style="italic">X / mm</text>
<text x="440.90" y="426.00" font-size="8.5" text-anchor="middle">−12</text>
<text x="448.40" y="415.00" font-size="8.5" text-anchor="middle">−6</text>
<text x="455.90" y="405.00" font-size="8.5" text-anchor="middle">0</text>
<text x="463.40" y="396.00" font-size="8.5" text-anchor="middle">6</text>
<text x="470.90" y="385.50" font-size="8.5" text-anchor="middle">12</text>
<text x="466.70" y="409.00" font-size="8.5" text-anchor="middle" transform="rotate(-50 466.70 409.00)">Y / mm</text>
<g fill="none"><line x1="513.43" y1="391.02" x2="555.91" y2="348.45" stroke="#cfcfcf" stroke-width="0.55"/><line x1="529.06" y1="397.02" x2="570.37" y2="353.79" stroke="#cfcfcf" stroke-width="0.55"/><line x1="544.33" y1="402.88" x2="584.49" y2="359.00" stroke="#cfcfcf" stroke-width="0.55"/><line x1="560.25" y1="408.98" x2="599.21" y2="364.44" stroke="#cfcfcf" stroke-width="0.55"/><line x1="575.81" y1="414.95" x2="613.59" y2="369.76" stroke="#cfcfcf" stroke-width="0.55"/><line x1="510.61" y1="388.00" x2="582.40" y2="415.08" stroke="#cfcfcf" stroke-width="0.55" stroke-dasharray="2.2 1.2"/><line x1="520.71" y1="377.99" x2="591.00" y2="404.64" stroke="#cfcfcf" stroke-width="0.55" stroke-dasharray="2.2 1.2"/><line x1="529.70" y1="369.09" x2="599.60" y2="394.20" stroke="#cfcfcf" stroke-width="0.55" stroke-dasharray="2.2 1.2"/><line x1="538.69" y1="360.19" x2="608.20" y2="383.76" stroke="#cfcfcf" stroke-width="0.55" stroke-dasharray="2.2 1.2"/><line x1="546.61" y1="352.34" x2="616.43" y2="373.77" stroke="#cfcfcf" stroke-width="0.55" stroke-dasharray="2.2 1.2"/><line x1="510.61" y1="382.00" x2="510.61" y2="342.00" stroke="#c2c2c2" stroke-width="0.7"/><line x1="520.71" y1="371.99" x2="520.71" y2="331.99" stroke="#c2c2c2" stroke-width="0.7"/><line x1="529.70" y1="363.09" x2="529.70" y2="323.09" stroke="#c2c2c2" stroke-width="0.7"/><line x1="538.69" y1="354.19" x2="538.69" y2="314.19" stroke="#c2c2c2" stroke-width="0.7"/><line x1="546.61" y1="346.34" x2="546.61" y2="306.34" stroke="#c2c2c2" stroke-width="0.7"/><line x1="555.91" y1="348.45" x2="555.91" y2="302.45" stroke="#b2b2b2" stroke-width="0.75"/><line x1="570.37" y1="353.79" x2="570.37" y2="307.79" stroke="#b2b2b2" stroke-width="0.75"/><line x1="584.49" y1="359.00" x2="584.49" y2="313.00" stroke="#b2b2b2" stroke-width="0.75"/><line x1="599.21" y1="364.44" x2="599.21" y2="318.44" stroke="#b2b2b2" stroke-width="0.75"/><line x1="613.59" y1="369.76" x2="613.59" y2="323.76" stroke="#b2b2b2" stroke-width="0.75"/><line x1="552.00" y1="335.70" x2="509.20" y2="378.10" stroke="#a2a2a2" stroke-width="0.6"/><line x1="552.00" y1="335.70" x2="618.30" y2="360.20" stroke="#9c9c9c" stroke-width="0.6" stroke-dasharray="1.7 1.5"/><line x1="552.00" y1="327.70" x2="509.20" y2="370.10" stroke="#a2a2a2" stroke-width="0.6"/><line x1="552.00" y1="327.70" x2="618.30" y2="352.20" stroke="#9c9c9c" stroke-width="0.6" stroke-dasharray="1.7 1.5"/><line x1="552.00" y1="319.70" x2="509.20" y2="362.10" stroke="#a2a2a2" stroke-width="0.6"/><line x1="552.00" y1="319.70" x2="618.30" y2="344.20" stroke="#9c9c9c" stroke-width="0.6" stroke-dasharray="1.7 1.5"/><line x1="552.00" y1="311.70" x2="509.20" y2="354.10" stroke="#a2a2a2" stroke-width="0.6"/><line x1="552.00" y1="311.70" x2="618.30" y2="336.20" stroke="#9c9c9c" stroke-width="0.6" stroke-dasharray="1.7 1.5"/><line x1="509.20" y1="389.40" x2="580.90" y2="416.90" stroke="#222" stroke-width="1.3" stroke-dasharray="0.7 1.25"/><line x1="580.90" y1="416.90" x2="618.30" y2="371.50" stroke="#222" stroke-width="1.1" stroke-dasharray="1.6 1.9"/><line x1="620.30" y1="363.50" x2="620.30" y2="332.50" stroke="#222" stroke-width="0.9" stroke-dasharray="5.2 2.6"/></g>
<text x="625.30" y="340.00" font-size="8.5">15</text>
<text x="625.30" y="348.00" font-size="8.5">10</text>
<text x="625.30" y="356.00" font-size="8.5">5</text>
<text x="625.30" y="364.00" font-size="8.5">0</text>
<text x="643.50" y="343.00" font-size="8.5" text-anchor="middle" transform="rotate(-90 643.50 343.00)">Z / mm</text>
<text x="513.20" y="405.75" font-size="8.5" text-anchor="middle">−12</text>
<text x="526.20" y="411.50" font-size="8.5" text-anchor="middle">−6</text>
<text x="540.70" y="417.50" font-size="8.5" text-anchor="middle">0</text>
<text x="556.20" y="423.50" font-size="8.5" text-anchor="middle">6</text>
<text x="571.20" y="429.50" font-size="8.5" text-anchor="middle">12</text>
<text x="536.20" y="424.00" font-size="8.5" text-anchor="middle" transform="rotate(24 536.20 424.00)" font-style="italic">X / mm</text>
<text x="590.90" y="426.00" font-size="8.5" text-anchor="middle">−12</text>
<text x="598.40" y="415.00" font-size="8.5" text-anchor="middle">−6</text>
<text x="605.90" y="405.00" font-size="8.5" text-anchor="middle">0</text>
<text x="613.40" y="396.00" font-size="8.5" text-anchor="middle">6</text>
<text x="620.90" y="385.50" font-size="8.5" text-anchor="middle">12</text>
<text x="616.70" y="409.00" font-size="8.5" text-anchor="middle" transform="rotate(-50 616.70 409.00)">Y / mm</text>
<g fill="none"><line x1="663.43" y1="391.02" x2="705.91" y2="348.45" stroke="#cfcfcf" stroke-width="0.55"/><line x1="679.06" y1="397.02" x2="720.37" y2="353.79" stroke="#cfcfcf" stroke-width="0.55"/><line x1="694.33" y1="402.88" x2="734.49" y2="359.00" stroke="#cfcfcf" stroke-width="0.55"/><line x1="710.25" y1="408.98" x2="749.21" y2="364.44" stroke="#cfcfcf" stroke-width="0.55"/><line x1="725.81" y1="414.95" x2="763.59" y2="369.76" stroke="#cfcfcf" stroke-width="0.55"/><line x1="660.61" y1="388.00" x2="732.40" y2="415.08" stroke="#cfcfcf" stroke-width="0.55" stroke-dasharray="2.2 1.2"/><line x1="670.71" y1="377.99" x2="741.00" y2="404.64" stroke="#cfcfcf" stroke-width="0.55" stroke-dasharray="2.2 1.2"/><line x1="679.70" y1="369.09" x2="749.60" y2="394.20" stroke="#cfcfcf" stroke-width="0.55" stroke-dasharray="2.2 1.2"/><line x1="688.69" y1="360.19" x2="758.20" y2="383.76" stroke="#cfcfcf" stroke-width="0.55" stroke-dasharray="2.2 1.2"/><line x1="696.61" y1="352.34" x2="766.43" y2="373.77" stroke="#cfcfcf" stroke-width="0.55" stroke-dasharray="2.2 1.2"/><line x1="660.61" y1="382.00" x2="660.61" y2="342.00" stroke="#c2c2c2" stroke-width="0.7"/><line x1="670.71" y1="371.99" x2="670.71" y2="331.99" stroke="#c2c2c2" stroke-width="0.7"/><line x1="679.70" y1="363.09" x2="679.70" y2="323.09" stroke="#c2c2c2" stroke-width="0.7"/><line x1="688.69" y1="354.19" x2="688.69" y2="314.19" stroke="#c2c2c2" stroke-width="0.7"/><line x1="696.61" y1="346.34" x2="696.61" y2="306.34" stroke="#c2c2c2" stroke-width="0.7"/><line x1="705.91" y1="348.45" x2="705.91" y2="302.45" stroke="#b2b2b2" stroke-width="0.75"/><line x1="720.37" y1="353.79" x2="720.37" y2="307.79" stroke="#b2b2b2" stroke-width="0.75"/><line x1="734.49" y1="359.00" x2="734.49" y2="313.00" stroke="#b2b2b2" stroke-width="0.75"/><line x1="749.21" y1="364.44" x2="749.21" y2="318.44" stroke="#b2b2b2" stroke-width="0.75"/><line x1="763.59" y1="369.76" x2="763.59" y2="323.76" stroke="#b2b2b2" stroke-width="0.75"/><line x1="702.00" y1="335.70" x2="659.20" y2="378.10" stroke="#a2a2a2" stroke-width="0.6"/><line x1="702.00" y1="335.70" x2="768.30" y2="360.20" stroke="#9c9c9c" stroke-width="0.6" stroke-dasharray="1.7 1.5"/><line x1="702.00" y1="327.70" x2="659.20" y2="370.10" stroke="#a2a2a2" stroke-width="0.6"/><line x1="702.00" y1="327.70" x2="768.30" y2="352.20" stroke="#9c9c9c" stroke-width="0.6" stroke-dasharray="1.7 1.5"/><line x1="702.00" y1="319.70" x2="659.20" y2="362.10" stroke="#a2a2a2" stroke-width="0.6"/><line x1="702.00" y1="319.70" x2="768.30" y2="344.20" stroke="#9c9c9c" stroke-width="0.6" stroke-dasharray="1.7 1.5"/><line x1="702.00" y1="311.70" x2="659.20" y2="354.10" stroke="#a2a2a2" stroke-width="0.6"/><line x1="702.00" y1="311.70" x2="768.30" y2="336.20" stroke="#9c9c9c" stroke-width="0.6" stroke-dasharray="1.7 1.5"/><line x1="659.20" y1="389.40" x2="730.90" y2="416.90" stroke="#222" stroke-width="1.3" stroke-dasharray="0.7 1.25"/><line x1="730.90" y1="416.90" x2="768.30" y2="371.50" stroke="#222" stroke-width="1.1" stroke-dasharray="1.6 1.9"/><line x1="770.30" y1="363.50" x2="770.30" y2="332.50" stroke="#222" stroke-width="0.9" stroke-dasharray="5.2 2.6"/></g>
<text x="775.30" y="340.00" font-size="8.5">15</text>
<text x="775.30" y="348.00" font-size="8.5">10</text>
<text x="775.30" y="356.00" font-size="8.5">5</text>
<text x="775.30" y="364.00" font-size="8.5">0</text>
<text x="793.50" y="343.00" font-size="8.5" text-anchor="middle" transform="rotate(-90 793.50 343.00)">Z / mm</text>
<text x="663.20" y="405.75" font-size="8.5" text-anchor="middle">−12</text>
<text x="676.20" y="411.50" font-size="8.5" text-anchor="middle">−6</text>
<text x="690.70" y="417.50" font-size="8.5" text-anchor="middle">0</text>
<text x="706.20" y="423.50" font-size="8.5" text-anchor="middle">6</text>
<text x="721.20" y="429.50" font-size="8.5" text-anchor="middle">12</text>
<text x="686.20" y="424.00" font-size="8.5" text-anchor="middle" transform="rotate(24 686.20 424.00)" font-style="italic">X / mm</text>
<text x="740.90" y="426.00" font-size="8.5" text-anchor="middle">−12</text>
<text x="748.40" y="415.00" font-size="8.5" text-anchor="middle">−6</text>
<text x="755.90" y="405.00" font-size="8.5" text-anchor="middle">0</text>
<text x="763.40" y="396.00" font-size="8.5" text-anchor="middle">6</text>
<text x="770.90" y="385.50" font-size="8.5" text-anchor="middle">12</text>
<text x="766.70" y="409.00" font-size="8.5" text-anchor="middle" transform="rotate(-50 766.70 409.00)">Y / mm</text>
<g fill="none"><line x1="814.23" y1="391.02" x2="856.71" y2="348.45" stroke="#cfcfcf" stroke-width="0.55"/><line x1="829.86" y1="397.02" x2="871.17" y2="353.79" stroke="#cfcfcf" stroke-width="0.55"/><line x1="845.13" y1="402.88" x2="885.29" y2="359.00" stroke="#cfcfcf" stroke-width="0.55"/><line x1="861.05" y1="408.98" x2="900.01" y2="364.44" stroke="#cfcfcf" stroke-width="0.55"/><line x1="876.61" y1="414.95" x2="914.39" y2="369.76" stroke="#cfcfcf" stroke-width="0.55"/><line x1="811.41" y1="388.00" x2="883.20" y2="415.08" stroke="#cfcfcf" stroke-width="0.55" stroke-dasharray="2.2 1.2"/><line x1="821.51" y1="377.99" x2="891.80" y2="404.64" stroke="#cfcfcf" stroke-width="0.55" stroke-dasharray="2.2 1.2"/><line x1="830.50" y1="369.09" x2="900.40" y2="394.20" stroke="#cfcfcf" stroke-width="0.55" stroke-dasharray="2.2 1.2"/><line x1="839.49" y1="360.19" x2="909.00" y2="383.76" stroke="#cfcfcf" stroke-width="0.55" stroke-dasharray="2.2 1.2"/><line x1="847.41" y1="352.34" x2="917.23" y2="373.77" stroke="#cfcfcf" stroke-width="0.55" stroke-dasharray="2.2 1.2"/><line x1="811.41" y1="382.00" x2="811.41" y2="342.00" stroke="#c2c2c2" stroke-width="0.7"/><line x1="821.51" y1="371.99" x2="821.51" y2="331.99" stroke="#c2c2c2" stroke-width="0.7"/><line x1="830.50" y1="363.09" x2="830.50" y2="323.09" stroke="#c2c2c2" stroke-width="0.7"/><line x1="839.49" y1="354.19" x2="839.49" y2="314.19" stroke="#c2c2c2" stroke-width="0.7"/><line x1="847.41" y1="346.34" x2="847.41" y2="306.34" stroke="#c2c2c2" stroke-width="0.7"/><line x1="856.71" y1="348.45" x2="856.71" y2="302.45" stroke="#b2b2b2" stroke-width="0.75"/><line x1="871.17" y1="353.79" x2="871.17" y2="307.79" stroke="#b2b2b2" stroke-width="0.75"/><line x1="885.29" y1="359.00" x2="885.29" y2="313.00" stroke="#b2b2b2" stroke-width="0.75"/><line x1="900.01" y1="364.44" x2="900.01" y2="318.44" stroke="#b2b2b2" stroke-width="0.75"/><line x1="914.39" y1="369.76" x2="914.39" y2="323.76" stroke="#b2b2b2" stroke-width="0.75"/><line x1="852.80" y1="335.70" x2="810.00" y2="378.10" stroke="#a2a2a2" stroke-width="0.6"/><line x1="852.80" y1="335.70" x2="919.10" y2="360.20" stroke="#9c9c9c" stroke-width="0.6" stroke-dasharray="1.7 1.5"/><line x1="852.80" y1="327.70" x2="810.00" y2="370.10" stroke="#a2a2a2" stroke-width="0.6"/><line x1="852.80" y1="327.70" x2="919.10" y2="352.20" stroke="#9c9c9c" stroke-width="0.6" stroke-dasharray="1.7 1.5"/><line x1="852.80" y1="319.70" x2="810.00" y2="362.10" stroke="#a2a2a2" stroke-width="0.6"/><line x1="852.80" y1="319.70" x2="919.10" y2="344.20" stroke="#9c9c9c" stroke-width="0.6" stroke-dasharray="1.7 1.5"/><line x1="852.80" y1="311.70" x2="810.00" y2="354.10" stroke="#a2a2a2" stroke-width="0.6"/><line x1="852.80" y1="311.70" x2="919.10" y2="336.20" stroke="#9c9c9c" stroke-width="0.6" stroke-dasharray="1.7 1.5"/><line x1="810.00" y1="389.40" x2="881.70" y2="416.90" stroke="#222" stroke-width="1.3" stroke-dasharray="0.7 1.25"/><line x1="881.70" y1="416.90" x2="919.10" y2="371.50" stroke="#222" stroke-width="1.1" stroke-dasharray="1.6 1.9"/><line x1="921.10" y1="363.50" x2="921.10" y2="332.50" stroke="#222" stroke-width="0.9" stroke-dasharray="5.2 2.6"/></g>
<text x="926.10" y="340.00" font-size="8.5">15</text>
<text x="926.10" y="348.00" font-size="8.5">10</text>
<text x="926.10" y="356.00" font-size="8.5">5</text>
<text x="926.10" y="364.00" font-size="8.5">0</text>
<text x="944.30" y="343.00" font-size="8.5" text-anchor="middle" transform="rotate(-90 944.30 343.00)">Z / mm</text>
<text x="814.00" y="405.75" font-size="8.5" text-anchor="middle">−12</text>
<text x="827.00" y="411.50" font-size="8.5" text-anchor="middle">−6</text>
<text x="841.50" y="417.50" font-size="8.5" text-anchor="middle">0</text>
<text x="857.00" y="423.50" font-size="8.5" text-anchor="middle">6</text>
<text x="872.00" y="429.50" font-size="8.5" text-anchor="middle">12</text>
<text x="837.00" y="424.00" font-size="8.5" text-anchor="middle" transform="rotate(24 837.00 424.00)" font-style="italic">X / mm</text>
<text x="891.70" y="426.00" font-size="8.5" text-anchor="middle">−12</text>
<text x="899.20" y="415.00" font-size="8.5" text-anchor="middle">−6</text>
<text x="906.70" y="405.00" font-size="8.5" text-anchor="middle">0</text>
<text x="914.20" y="396.00" font-size="8.5" text-anchor="middle">6</text>
<text x="921.70" y="385.50" font-size="8.5" text-anchor="middle">12</text>
<text x="917.50" y="409.00" font-size="8.5" text-anchor="middle" transform="rotate(-50 917.50 409.00)">Y / mm</text>
<clipPath id="dm1"><path d="M65.50 368.00 A39.75 33.50 0 0 1 145.00 368.00 A39.75 27.50 0 0 1 65.50 368.00 Z" transform="rotate(4 105.2 368.0)"/></clipPath>
<g clip-path="url(#dm1)">
<rect x="62.5" y="331.5" width="85.5" height="67.0" fill="#17175f"/>
<ellipse cx="100" cy="350" rx="30" ry="12" fill="#1b1b6b" filter="url(#b5)"/>
<ellipse cx="110" cy="385" rx="30" ry="8" fill="#121250" filter="url(#b5)"/>
</g>
<clipPath id="dm2"><path d="M226.30 368.00 A35.60 31.00 0 0 1 297.50 368.00 A35.60 25.00 0 0 1 226.30 368.00 Z" transform="rotate(3 261.9 368.0)"/></clipPath>
<g clip-path="url(#dm2)">
<rect x="223.3" y="334.0" width="77.2" height="62.0" fill="#1848d0"/>
<ellipse cx="262" cy="366" rx="26" ry="14" fill="#0a22b0" filter="url(#b5)"/>
<ellipse cx="262" cy="392" rx="34" ry="6" fill="#62cfa0" filter="url(#b3)"/>
<ellipse cx="229" cy="372" rx="5" ry="14" fill="#2a9fe0" filter="url(#b3)"/>
<ellipse cx="296" cy="372" rx="5" ry="14" fill="#2a9fe0" filter="url(#b3)"/>
<ellipse cx="263" cy="343" rx="13" ry="7.5" fill="#7ff0a0" filter="url(#b2)"/>
<ellipse cx="263" cy="343" rx="9.5" ry="5.5" fill="#ffe020" filter="url(#b15)"/>
<ellipse cx="263" cy="343.5" rx="6.5" ry="3.8" fill="#ff5000" filter="url(#b1)"/>
<ellipse cx="263" cy="344" rx="4" ry="2.4" fill="#a00000" filter="url(#b1)"/>
</g>
<clipPath id="dm3"><path d="M397.00 366.00 A18.75 17.50 0 0 1 434.50 366.00 A18.75 15.20 0 0 1 397.00 366.00 Z" transform="rotate(3 415.8 366.0)"/></clipPath>
<g clip-path="url(#dm3)">
<rect x="394.0" y="345.5" width="43.5" height="38.7" fill="#8ed060"/>
<ellipse cx="404" cy="368" rx="7" ry="12" fill="#5cc88a" filter="url(#b3)"/>
<ellipse cx="416" cy="377" rx="14" ry="5" fill="#c8d848" filter="url(#b2)"/>
<ellipse cx="427" cy="366" rx="7" ry="6" fill="#1a70e0" filter="url(#b2)"/>
<ellipse cx="428.5" cy="365" rx="3.5" ry="3.2" fill="#0a30c8" filter="url(#b1)"/>
<ellipse cx="419" cy="353.5" rx="11" ry="4.8" fill="#ffb020" filter="url(#b15)"/>
<ellipse cx="421" cy="352.6" rx="7" ry="3" fill="#d81800" filter="url(#b1)"/>
<ellipse cx="422" cy="352.3" rx="4" ry="2" fill="#8a0000" filter="url(#b1)"/>
<ellipse cx="412.3" cy="357.6" rx="2.6" ry="1.5" fill="#1060d8" filter="url(#b1)"/>
</g>
<clipPath id="dm4"><path d="M541.30 366.00 A25.85 25.70 0 0 1 593.00 366.00 A25.85 18.50 0 0 1 541.30 366.00 Z" transform="rotate(4 567.1 366.0)"/></clipPath>
<g clip-path="url(#dm4)">
<rect x="538.3" y="337.3" width="57.7" height="50.2" fill="#86cc70"/>
<ellipse cx="550.3" cy="373" rx="10" ry="15" fill="#3cb0b4" filter="url(#b3)"/>
<ellipse cx="543.3" cy="372" rx="3.5" ry="10" fill="#2a80c8" filter="url(#b2)"/>
<ellipse cx="554.15" cy="355" rx="9" ry="9" fill="#f0c430" filter="url(#b3)"/>
<ellipse cx="549.15" cy="363" rx="5" ry="7" fill="#d8d040" filter="url(#b3)"/>
<ellipse cx="568.15" cy="374" rx="13" ry="5" fill="#40c0b0" filter="url(#b3)"/>
<ellipse cx="560.15" cy="374.9" rx="17" ry="4.6" fill="#2c78dc" filter="url(#b2)" transform="rotate(10 560.15 374.9)"/>
<ellipse cx="560.65" cy="374.7" rx="9.5" ry="2.8" fill="#1838c8" filter="url(#b15)" transform="rotate(10 560.65 374.7)"/>
<ellipse cx="567.15" cy="383.3" rx="23" ry="3" fill="#c8d838" filter="url(#b15)"/>
<ellipse cx="586" cy="355" rx="5" ry="8" fill="#d0d838" filter="url(#b2)"/>
<ellipse cx="578.15" cy="361.5" rx="9" ry="8" fill="#30c0e0" filter="url(#b2)"/>
<ellipse cx="578.15" cy="361.5" rx="6" ry="5.2" fill="#1048e0" filter="url(#b15)"/>
<ellipse cx="578.4499999999999" cy="361.5" rx="3.4" ry="2.9" fill="#0818b0" filter="url(#b1)"/>
<ellipse cx="591.5" cy="370" rx="2.6" ry="7" fill="#2050d0" filter="url(#b15)"/>
<ellipse cx="569.15" cy="348.3" rx="18" ry="8" fill="#ff9820" filter="url(#b2)"/>
<ellipse cx="569.65" cy="346.5" rx="13.5" ry="5.4" fill="#e02400" filter="url(#b15)"/>
<ellipse cx="570.15" cy="345.5" rx="9.5" ry="3.6" fill="#900000" filter="url(#b1)"/>
<ellipse cx="566.65" cy="350.8" rx="3" ry="2.2" fill="#c8e050" filter="url(#b1)"/>
</g>
<clipPath id="dm5"><path d="M688.00 364.00 A29.15 27.00 0 0 1 746.30 364.00 A29.15 22.00 0 0 1 688.00 364.00 Z" transform="rotate(4 717.1 364.0)"/></clipPath>
<g clip-path="url(#dm5)">
<rect x="685.0" y="334.0" width="64.3" height="55.0" fill="#86cc70"/>
<ellipse cx="697" cy="371" rx="10" ry="15" fill="#3cb0b4" filter="url(#b3)"/>
<ellipse cx="690" cy="370" rx="3.5" ry="10" fill="#2a80c8" filter="url(#b2)"/>
<ellipse cx="704.15" cy="353" rx="9" ry="9" fill="#f0c430" filter="url(#b3)"/>
<ellipse cx="699.15" cy="361" rx="5" ry="7" fill="#d8d040" filter="url(#b3)"/>
<ellipse cx="718.15" cy="372" rx="13" ry="5" fill="#40c0b0" filter="url(#b3)"/>
<ellipse cx="710.15" cy="376.4" rx="17" ry="4.6" fill="#2c78dc" filter="url(#b2)" transform="rotate(10 710.15 376.4)"/>
<ellipse cx="710.65" cy="376.2" rx="9.5" ry="2.8" fill="#1838c8" filter="url(#b15)" transform="rotate(10 710.65 376.2)"/>
<ellipse cx="717.15" cy="384.8" rx="23" ry="3" fill="#c8d838" filter="url(#b15)"/>
<ellipse cx="739.3" cy="353" rx="5" ry="8" fill="#d0d838" filter="url(#b2)"/>
<ellipse cx="728.15" cy="359.5" rx="9" ry="8" fill="#30c0e0" filter="url(#b2)"/>
<ellipse cx="728.15" cy="359.5" rx="6" ry="5.2" fill="#1048e0" filter="url(#b15)"/>
<ellipse cx="728.4499999999999" cy="359.5" rx="3.4" ry="2.9" fill="#0818b0" filter="url(#b1)"/>
<ellipse cx="744.8" cy="368" rx="2.6" ry="7" fill="#2050d0" filter="url(#b15)"/>
<ellipse cx="719.15" cy="345" rx="18" ry="8" fill="#ff9820" filter="url(#b2)"/>
<ellipse cx="719.65" cy="343.2" rx="13.5" ry="5.4" fill="#e02400" filter="url(#b15)"/>
<ellipse cx="720.15" cy="342.2" rx="9.5" ry="3.6" fill="#900000" filter="url(#b1)"/>
<ellipse cx="716.65" cy="347.5" rx="3" ry="2.2" fill="#c8e050" filter="url(#b1)"/>
</g>
<clipPath id="dm6"><path d="M838.80 364.00 A29.10 26.20 0 0 1 897.00 364.00 A29.10 22.00 0 0 1 838.80 364.00 Z" transform="rotate(4 867.9 364.0)"/></clipPath>
<g clip-path="url(#dm6)">
<rect x="835.8" y="334.8" width="64.2" height="54.2" fill="#86cc70"/>
<ellipse cx="847.8" cy="371" rx="10" ry="15" fill="#3cb0b4" filter="url(#b3)"/>
<ellipse cx="840.8" cy="370" rx="3.5" ry="10" fill="#2a80c8" filter="url(#b2)"/>
<ellipse cx="854.9" cy="353" rx="9" ry="9" fill="#f0c430" filter="url(#b3)"/>
<ellipse cx="849.9" cy="361" rx="5" ry="7" fill="#d8d040" filter="url(#b3)"/>
<ellipse cx="868.9" cy="372" rx="13" ry="5" fill="#40c0b0" filter="url(#b3)"/>
<ellipse cx="860.9" cy="376.4" rx="17" ry="4.6" fill="#2c78dc" filter="url(#b2)" transform="rotate(10 860.9 376.4)"/>
<ellipse cx="861.4" cy="376.2" rx="9.5" ry="2.8" fill="#1838c8" filter="url(#b15)" transform="rotate(10 861.4 376.2)"/>
<ellipse cx="867.9" cy="384.8" rx="23" ry="3" fill="#c8d838" filter="url(#b15)"/>
<ellipse cx="890" cy="353" rx="5" ry="8" fill="#d0d838" filter="url(#b2)"/>
<ellipse cx="878.9" cy="359.5" rx="9" ry="8" fill="#30c0e0" filter="url(#b2)"/>
<ellipse cx="878.9" cy="359.5" rx="6" ry="5.2" fill="#1048e0" filter="url(#b15)"/>
<ellipse cx="879.1999999999999" cy="359.5" rx="3.4" ry="2.9" fill="#0818b0" filter="url(#b1)"/>
<ellipse cx="895.5" cy="368" rx="2.6" ry="7" fill="#2050d0" filter="url(#b15)"/>
<ellipse cx="869.9" cy="345.8" rx="18" ry="8" fill="#ff9820" filter="url(#b2)"/>
<ellipse cx="870.4" cy="344.0" rx="13.5" ry="5.4" fill="#e02400" filter="url(#b15)"/>
<ellipse cx="870.9" cy="343.0" rx="9.5" ry="3.6" fill="#900000" filter="url(#b1)"/>
<ellipse cx="867.4" cy="348.3" rx="3" ry="2.2" fill="#c8e050" filter="url(#b1)"/>
</g>
<clipPath id="clrg1"><rect x="57.5" y="441.3" width="99.5" height="98.69999999999999"/></clipPath>
<g clip-path="url(#clrg1)">
<rect x="47.50" y="431.30" width="119.50" height="118.70" fill="url(#rg1)" filter="url(#nzrg1)"/>
</g>
<text x="54.90" y="443.30" font-size="5.6" text-anchor="end">1100</text>
<line x1="56.00" y1="441.30" x2="57.50" y2="441.30" stroke="#000" stroke-width="0.4" />
<text x="54.90" y="463.04" font-size="5.6" text-anchor="end">660</text>
<line x1="56.00" y1="461.04" x2="57.50" y2="461.04" stroke="#000" stroke-width="0.4" />
<text x="54.90" y="482.78" font-size="5.6" text-anchor="end">220</text>
<line x1="56.00" y1="480.78" x2="57.50" y2="480.78" stroke="#000" stroke-width="0.4" />
<text x="54.90" y="502.52" font-size="5.6" text-anchor="end">-220</text>
<line x1="56.00" y1="500.52" x2="57.50" y2="500.52" stroke="#000" stroke-width="0.4" />
<text x="54.90" y="522.26" font-size="5.6" text-anchor="end">-660</text>
<line x1="56.00" y1="520.26" x2="57.50" y2="520.26" stroke="#000" stroke-width="0.4" />
<text x="54.90" y="542.00" font-size="5.6" text-anchor="end">-1100</text>
<line x1="56.00" y1="540.00" x2="57.50" y2="540.00" stroke="#000" stroke-width="0.4" />
<text x="57.50" y="547.20" font-size="5.6" text-anchor="middle">-1100</text>
<line x1="57.50" y1="540.00" x2="57.50" y2="541.50" stroke="#000" stroke-width="0.4" />
<text x="77.40" y="547.20" font-size="5.6" text-anchor="middle">-660</text>
<line x1="77.40" y1="540.00" x2="77.40" y2="541.50" stroke="#000" stroke-width="0.4" />
<text x="97.30" y="547.20" font-size="5.6" text-anchor="middle">-220</text>
<line x1="97.30" y1="540.00" x2="97.30" y2="541.50" stroke="#000" stroke-width="0.4" />
<text x="117.20" y="547.20" font-size="5.6" text-anchor="middle">220</text>
<line x1="117.20" y1="540.00" x2="117.20" y2="541.50" stroke="#000" stroke-width="0.4" />
<text x="137.10" y="547.20" font-size="5.6" text-anchor="middle">660</text>
<line x1="137.10" y1="540.00" x2="137.10" y2="541.50" stroke="#000" stroke-width="0.4" />
<text x="157.00" y="547.20" font-size="5.6" text-anchor="middle">1100</text>
<line x1="157.00" y1="540.00" x2="157.00" y2="541.50" stroke="#000" stroke-width="0.4" />
<rect x="163.30" y="441.30" width="4.70" height="98.70" fill="url(#jetv)" />
<line x1="168.00" y1="454.50" x2="169.50" y2="454.50" stroke="#000" stroke-width="0.4" />
<text x="170.60" y="456.60" font-size="6.199999999999999">1.2</text>
<line x1="168.00" y1="469.00" x2="169.50" y2="469.00" stroke="#000" stroke-width="0.4" />
<text x="170.60" y="471.10" font-size="6.199999999999999">1.0</text>
<line x1="168.00" y1="483.50" x2="169.50" y2="483.50" stroke="#000" stroke-width="0.4" />
<text x="170.60" y="485.60" font-size="6.199999999999999">0.8</text>
<line x1="168.00" y1="498.00" x2="169.50" y2="498.00" stroke="#000" stroke-width="0.4" />
<text x="170.60" y="500.10" font-size="6.199999999999999">0.6</text>
<line x1="168.00" y1="513.00" x2="169.50" y2="513.00" stroke="#000" stroke-width="0.4" />
<text x="170.60" y="515.10" font-size="6.199999999999999">0.4</text>
<line x1="168.00" y1="527.50" x2="169.50" y2="527.50" stroke="#000" stroke-width="0.4" />
<text x="170.60" y="529.60" font-size="6.199999999999999">0.2</text>
<text x="150.30" y="440.10" font-size="6.199999999999999">×10</text>
<text x="160.60" y="436.90" font-size="3.9999999999999996">−5</text>
<text transform="translate(183.0 491.6) rotate(-90)" font-size="6.199999999999999" text-anchor="middle"><tspan font-style="italic">E</tspan> / <tspan font-style="italic">W</tspan> · mm<tspan font-size="4.199999999999999" dy="-2">−2</tspan></text>
<clipPath id="clrg2"><rect x="213.8" y="441.3" width="98.69999999999999" height="98.69999999999999"/></clipPath>
<g clip-path="url(#clrg2)">
<rect x="203.80" y="431.30" width="118.70" height="118.70" fill="url(#rg2)" filter="url(#nzrg2)"/>
</g>
<text x="211.20" y="443.30" font-size="5.6" text-anchor="end">1100</text>
<line x1="212.30" y1="441.30" x2="213.80" y2="441.30" stroke="#000" stroke-width="0.4" />
<text x="211.20" y="463.04" font-size="5.6" text-anchor="end">660</text>
<line x1="212.30" y1="461.04" x2="213.80" y2="461.04" stroke="#000" stroke-width="0.4" />
<text x="211.20" y="482.78" font-size="5.6" text-anchor="end">220</text>
<line x1="212.30" y1="480.78" x2="213.80" y2="480.78" stroke="#000" stroke-width="0.4" />
<text x="211.20" y="502.52" font-size="5.6" text-anchor="end">-220</text>
<line x1="212.30" y1="500.52" x2="213.80" y2="500.52" stroke="#000" stroke-width="0.4" />
<text x="211.20" y="522.26" font-size="5.6" text-anchor="end">-660</text>
<line x1="212.30" y1="520.26" x2="213.80" y2="520.26" stroke="#000" stroke-width="0.4" />
<text x="211.20" y="542.00" font-size="5.6" text-anchor="end">-1100</text>
<line x1="212.30" y1="540.00" x2="213.80" y2="540.00" stroke="#000" stroke-width="0.4" />
<text x="213.80" y="547.20" font-size="5.6" text-anchor="middle">-1100</text>
<line x1="213.80" y1="540.00" x2="213.80" y2="541.50" stroke="#000" stroke-width="0.4" />
<text x="233.54" y="547.20" font-size="5.6" text-anchor="middle">-660</text>
<line x1="233.54" y1="540.00" x2="233.54" y2="541.50" stroke="#000" stroke-width="0.4" />
<text x="253.28" y="547.20" font-size="5.6" text-anchor="middle">-220</text>
<line x1="253.28" y1="540.00" x2="253.28" y2="541.50" stroke="#000" stroke-width="0.4" />
<text x="273.02" y="547.20" font-size="5.6" text-anchor="middle">220</text>
<line x1="273.02" y1="540.00" x2="273.02" y2="541.50" stroke="#000" stroke-width="0.4" />
<text x="292.76" y="547.20" font-size="5.6" text-anchor="middle">660</text>
<line x1="292.76" y1="540.00" x2="292.76" y2="541.50" stroke="#000" stroke-width="0.4" />
<text x="312.50" y="547.20" font-size="5.6" text-anchor="middle">1100</text>
<line x1="312.50" y1="540.00" x2="312.50" y2="541.50" stroke="#000" stroke-width="0.4" />
<rect x="319.30" y="441.30" width="5.00" height="98.70" fill="url(#jetv)" />
<line x1="324.30" y1="444.50" x2="325.80" y2="444.50" stroke="#000" stroke-width="0.4" />
<text x="326.90" y="446.60" font-size="6.199999999999999">2.5</text>
<line x1="324.30" y1="464.00" x2="325.80" y2="464.00" stroke="#000" stroke-width="0.4" />
<text x="326.90" y="466.10" font-size="6.199999999999999">2.0</text>
<line x1="324.30" y1="483.50" x2="325.80" y2="483.50" stroke="#000" stroke-width="0.4" />
<text x="326.90" y="485.60" font-size="6.199999999999999">1.5</text>
<line x1="324.30" y1="503.00" x2="325.80" y2="503.00" stroke="#000" stroke-width="0.4" />
<text x="326.90" y="505.10" font-size="6.199999999999999">1.0</text>
<line x1="324.30" y1="522.50" x2="325.80" y2="522.50" stroke="#000" stroke-width="0.4" />
<text x="326.90" y="524.60" font-size="6.199999999999999">0.5</text>
<text x="306.30" y="440.10" font-size="6.199999999999999">×10</text>
<text x="316.60" y="436.90" font-size="3.9999999999999996">−5</text>
<text transform="translate(339.3 491.6) rotate(-90)" font-size="6.199999999999999" text-anchor="middle"><tspan font-style="italic">E</tspan> / <tspan font-style="italic">W</tspan> · mm<tspan font-size="4.199999999999999" dy="-2">−2</tspan></text>
<clipPath id="ch3"><rect x="369.5" y="441.3" width="99.30000000000001" height="98.69999999999999"/></clipPath>
<g clip-path="url(#ch3)">
<rect x="369.50" y="441.30" width="99.30" height="98.70" fill="#0010a8" />
<path d="M387.1 460.2 L438.1 458.9 Q441.9 459.6 441.2 465.2 L435.3 513.1 Q434.3 521.9 428.0 522.5 L405.3 523.2 Q396.5 522.5 393.4 515.6 L384.6 472.8 Q382.7 460.8 387.1 460.2 Z" fill="#0038e8" stroke="#0038e8" stroke-width="14" stroke-linejoin="round" filter="url(#b5)"/>
<path d="M387.1 460.2 L438.1 458.9 Q441.9 459.6 441.2 465.2 L435.3 513.1 Q434.3 521.9 428.0 522.5 L405.3 523.2 Q396.5 522.5 393.4 515.6 L384.6 472.8 Q382.7 460.8 387.1 460.2 Z" fill="#0c70f8" stroke="#0c70f8" stroke-width="7" stroke-linejoin="round" filter="url(#b2)"/>
<path d="M387.1 460.2 L438.1 458.9 Q441.9 459.6 441.2 465.2 L435.3 513.1 Q434.3 521.9 428.0 522.5 L405.3 523.2 Q396.5 522.5 393.4 515.6 L384.6 472.8 Q382.7 460.8 387.1 460.2 Z" fill="#18a4f4" stroke="#18a4f4" stroke-width="1.5" stroke-linejoin="round" filter="url(#b2)"/>
<path d="M405.3 517.5 L428.6 516.9" fill="none" stroke="#38e8c8" stroke-width="7" stroke-linecap="round" filter="url(#b3)"/>
<path d="M389.6 465.0 L435.6 464.2 Q436.8 485.4 432.4 500.5 Q430.5 511.8 423.0 516.9" fill="none" stroke="#30e8d8" stroke-width="13" stroke-linecap="round" stroke-linejoin="round" filter="url(#b2)"/>
<path d="M389.6 465.0 L435.6 464.2 Q436.8 485.4 432.4 500.5 Q430.5 511.8 423.0 516.9" fill="none" stroke="#88f888" stroke-width="9.5" stroke-linecap="round" stroke-linejoin="round" filter="url(#b2)"/>
<path d="M396.5 464.7 L435.3 464.2 Q436.1 485.4 431.5 500.5 Q430.0 509.3 425.5 513.7" fill="none" stroke="#e0f030" stroke-width="5.6" stroke-linecap="round" stroke-linejoin="round" filter="url(#b2)"/>
<path d="M404.1 463.7 L434.3 464.7" fill="none" stroke="#ff9010" stroke-width="7.5" stroke-linecap="round" filter="url(#b2)"/>
<path d="M419.2 463.7 L434.9 465.2" fill="none" stroke="#e81400" stroke-width="6.5" stroke-linecap="round" filter="url(#b15)"/>
<ellipse cx="431.5" cy="465.0" rx="5.5" ry="3.2" fill="#8a0000" filter="url(#b15)"/>
<ellipse cx="428.9" cy="501.8" rx="2.6" ry="6.5" fill="#ffa018" filter="url(#b15)" transform="rotate(12 428.9 501.8)"/>
<ellipse cx="401.6" cy="491.7" rx="9" ry="17" fill="#1490f4" filter="url(#b3)" opacity="0.7"/>
</g>
<text x="366.90" y="443.30" font-size="5.6" text-anchor="end">1100</text>
<line x1="368.00" y1="441.30" x2="369.50" y2="441.30" stroke="#000" stroke-width="0.4" />
<text x="366.90" y="463.04" font-size="5.6" text-anchor="end">660</text>
<line x1="368.00" y1="461.04" x2="369.50" y2="461.04" stroke="#000" stroke-width="0.4" />
<text x="366.90" y="482.78" font-size="5.6" text-anchor="end">220</text>
<line x1="368.00" y1="480.78" x2="369.50" y2="480.78" stroke="#000" stroke-width="0.4" />
<text x="366.90" y="502.52" font-size="5.6" text-anchor="end">-220</text>
<line x1="368.00" y1="500.52" x2="369.50" y2="500.52" stroke="#000" stroke-width="0.4" />
<text x="366.90" y="522.26" font-size="5.6" text-anchor="end">-660</text>
<line x1="368.00" y1="520.26" x2="369.50" y2="520.26" stroke="#000" stroke-width="0.4" />
<text x="366.90" y="542.00" font-size="5.6" text-anchor="end">-1100</text>
<line x1="368.00" y1="540.00" x2="369.50" y2="540.00" stroke="#000" stroke-width="0.4" />
<text x="369.50" y="547.20" font-size="5.6" text-anchor="middle">-1100</text>
<line x1="369.50" y1="540.00" x2="369.50" y2="541.50" stroke="#000" stroke-width="0.4" />
<text x="389.36" y="547.20" font-size="5.6" text-anchor="middle">-660</text>
<line x1="389.36" y1="540.00" x2="389.36" y2="541.50" stroke="#000" stroke-width="0.4" />
<text x="409.22" y="547.20" font-size="5.6" text-anchor="middle">-220</text>
<line x1="409.22" y1="540.00" x2="409.22" y2="541.50" stroke="#000" stroke-width="0.4" />
<text x="429.08" y="547.20" font-size="5.6" text-anchor="middle">220</text>
<line x1="429.08" y1="540.00" x2="429.08" y2="541.50" stroke="#000" stroke-width="0.4" />
<text x="448.94" y="547.20" font-size="5.6" text-anchor="middle">660</text>
<line x1="448.94" y1="540.00" x2="448.94" y2="541.50" stroke="#000" stroke-width="0.4" />
<text x="468.80" y="547.20" font-size="5.6" text-anchor="middle">1100</text>
<line x1="468.80" y1="540.00" x2="468.80" y2="541.50" stroke="#000" stroke-width="0.4" />
<rect x="475.50" y="441.30" width="4.70" height="98.70" fill="url(#jetv)" />
<line x1="480.20" y1="451.50" x2="481.70" y2="451.50" stroke="#000" stroke-width="0.4" />
<text x="482.80" y="453.60" font-size="6.199999999999999">4</text>
<line x1="480.20" y1="473.50" x2="481.70" y2="473.50" stroke="#000" stroke-width="0.4" />
<text x="482.80" y="475.60" font-size="6.199999999999999">3</text>
<line x1="480.20" y1="495.50" x2="481.70" y2="495.50" stroke="#000" stroke-width="0.4" />
<text x="482.80" y="497.60" font-size="6.199999999999999">2</text>
<line x1="480.20" y1="517.50" x2="481.70" y2="517.50" stroke="#000" stroke-width="0.4" />
<text x="482.80" y="519.60" font-size="6.199999999999999">1</text>
<text x="462.50" y="440.10" font-size="6.199999999999999">×10</text>
<text x="472.80" y="436.90" font-size="3.9999999999999996">−5</text>
<text transform="translate(495.2 491.6) rotate(-90)" font-size="6.199999999999999" text-anchor="middle"><tspan font-style="italic">E</tspan> / <tspan font-style="italic">W</tspan> · mm<tspan font-size="4.199999999999999" dy="-2">−2</tspan></text>
<clipPath id="ch4"><rect x="520" y="441.3" width="99.29999999999995" height="98.69999999999999"/></clipPath>
<g clip-path="url(#ch4)">
<rect x="520.00" y="441.30" width="99.30" height="98.70" fill="#0008a0" />
<ellipse cx="572" cy="491.3" rx="38" ry="36" fill="#0028d8" filter="url(#b8)"/>
<g filter="url(#b15)" font-family="'Liberation Sans', sans-serif" font-style="italic" font-size="115.89" stroke-linejoin="round" stroke-linecap="round" >
<g fill="#0068ff" stroke="#0068ff" stroke-width="7">
<text transform="translate(531.11 520.22) scale(0.9376 1)">π</text>
</g>
<g fill="#10c8f8" stroke="#10c8f8" stroke-width="4">
<text transform="translate(531.11 520.22) scale(0.9376 1)">π</text>
</g>
<g fill="#40f0c0" stroke="#40f0c0" stroke-width="0.8">
<text transform="translate(531.11 520.22) scale(0.9376 1)">π</text>
</g>
<g fill="#90ff70" stroke="none" filter="url(#er15)">
<text transform="translate(531.11 520.22) scale(0.9376 1)">π</text>
</g>
</g>
<path d="M547.0 462.0 L601.2 461.5" fill="none" stroke="#e8f028" stroke-width="5.6" stroke-linecap="round" filter="url(#b15)"/>
<path d="M586.0 463.0 Q584.0 482.5 578.0 497.5 Q574.0 512.0 579.0 519.0" fill="none" stroke="#b8ff48" stroke-width="9" stroke-linecap="round" filter="url(#b15)"/>
<path d="M586.0 463.0 Q584.0 482.5 578.0 497.5 Q574.0 512.0 579.0 519.0" fill="none" stroke="#ffe018" stroke-width="6.4" stroke-linecap="round" filter="url(#b15)"/>
<path d="M551.2 462.0 L592.5 462.0" fill="none" stroke="#ff8810" stroke-width="3.6" stroke-linecap="round" filter="url(#b15)"/>
<path d="M583.5 478.8 Q581.0 492.5 577.5 500.0 Q575.0 511.2 578.5 518.0" fill="none" stroke="#ff7810" stroke-width="4.6" stroke-linecap="round" filter="url(#b15)"/>
<ellipse cx="555.5" cy="462.5" rx="3.4" ry="2.4" fill="#c80800" filter="url(#b1)"/>
<ellipse cx="584.5" cy="463.5" rx="3.8" ry="2.6" fill="#c80800" filter="url(#b1)"/>
<ellipse cx="578.0" cy="518.0" rx="3.2" ry="2.2" fill="#c80800" filter="url(#b1)"/>
<ellipse cx="541.2" cy="517.0" rx="4.5" ry="4" fill="#d8f030" filter="url(#b15)"/>
</g>
<text x="517.40" y="443.30" font-size="5.6" text-anchor="end">1100</text>
<line x1="518.50" y1="441.30" x2="520.00" y2="441.30" stroke="#000" stroke-width="0.4" />
<text x="517.40" y="463.04" font-size="5.6" text-anchor="end">660</text>
<line x1="518.50" y1="461.04" x2="520.00" y2="461.04" stroke="#000" stroke-width="0.4" />
<text x="517.40" y="482.78" font-size="5.6" text-anchor="end">220</text>
<line x1="518.50" y1="480.78" x2="520.00" y2="480.78" stroke="#000" stroke-width="0.4" />
<text x="517.40" y="502.52" font-size="5.6" text-anchor="end">-220</text>
<line x1="518.50" y1="500.52" x2="520.00" y2="500.52" stroke="#000" stroke-width="0.4" />
<text x="517.40" y="522.26" font-size="5.6" text-anchor="end">-660</text>
<line x1="518.50" y1="520.26" x2="520.00" y2="520.26" stroke="#000" stroke-width="0.4" />
<text x="517.40" y="542.00" font-size="5.6" text-anchor="end">-1100</text>
<line x1="518.50" y1="540.00" x2="520.00" y2="540.00" stroke="#000" stroke-width="0.4" />
<text x="520.00" y="547.20" font-size="5.6" text-anchor="middle">-1100</text>
<line x1="520.00" y1="540.00" x2="520.00" y2="541.50" stroke="#000" stroke-width="0.4" />
<text x="539.86" y="547.20" font-size="5.6" text-anchor="middle">-660</text>
<line x1="539.86" y1="540.00" x2="539.86" y2="541.50" stroke="#000" stroke-width="0.4" />
<text x="559.72" y="547.20" font-size="5.6" text-anchor="middle">-220</text>
<line x1="559.72" y1="540.00" x2="559.72" y2="541.50" stroke="#000" stroke-width="0.4" />
<text x="579.58" y="547.20" font-size="5.6" text-anchor="middle">220</text>
<line x1="579.58" y1="540.00" x2="579.58" y2="541.50" stroke="#000" stroke-width="0.4" />
<text x="599.44" y="547.20" font-size="5.6" text-anchor="middle">660</text>
<line x1="599.44" y1="540.00" x2="599.44" y2="541.50" stroke="#000" stroke-width="0.4" />
<text x="619.30" y="547.20" font-size="5.6" text-anchor="middle">1100</text>
<line x1="619.30" y1="540.00" x2="619.30" y2="541.50" stroke="#000" stroke-width="0.4" />
<rect x="625.80" y="441.30" width="5.00" height="98.70" fill="url(#jetv)" />
<line x1="630.80" y1="453.50" x2="632.30" y2="453.50" stroke="#000" stroke-width="0.4" />
<text x="633.40" y="455.60" font-size="6.199999999999999">5</text>
<line x1="630.80" y1="471.00" x2="632.30" y2="471.00" stroke="#000" stroke-width="0.4" />
<text x="633.40" y="473.10" font-size="6.199999999999999">4</text>
<line x1="630.80" y1="488.50" x2="632.30" y2="488.50" stroke="#000" stroke-width="0.4" />
<text x="633.40" y="490.60" font-size="6.199999999999999">3</text>
<line x1="630.80" y1="506.00" x2="632.30" y2="506.00" stroke="#000" stroke-width="0.4" />
<text x="633.40" y="508.10" font-size="6.199999999999999">2</text>
<line x1="630.80" y1="523.50" x2="632.30" y2="523.50" stroke="#000" stroke-width="0.4" />
<text x="633.40" y="525.60" font-size="6.199999999999999">1</text>
<text x="612.80" y="440.10" font-size="6.199999999999999">×10</text>
<text x="623.10" y="436.90" font-size="3.9999999999999996">−5</text>
<text transform="translate(645.8 491.6) rotate(-90)" font-size="6.199999999999999" text-anchor="middle"><tspan font-style="italic">E</tspan> / <tspan font-style="italic">W</tspan> · mm<tspan font-size="4.199999999999999" dy="-2">−2</tspan></text>
<clipPath id="ch5"><rect x="670.5" y="441.3" width="98.5" height="98.69999999999999"/></clipPath>
<g clip-path="url(#ch5)">
<rect x="670.50" y="441.30" width="98.50" height="98.70" fill="#000894" />
<ellipse cx="720.5" cy="491.3" rx="34" ry="32" fill="#0018c0" filter="url(#b8)"/>
<g filter="url(#b1)" font-family="'Liberation Sans', sans-serif" font-style="italic" font-size="114.95" stroke-linejoin="round" stroke-linecap="round" >
<g fill="#0058ff" stroke="#0058ff" stroke-width="6.4">
<text transform="translate(683.89 519.43) scale(0.8905 1)">π</text>
<path d="M696.30 462.52 Q689.80 462.19 685.90 471.72" fill="none" stroke="#0058ff" stroke-width="10.42"/>
</g>
<g fill="#10d0f8" stroke="#10d0f8" stroke-width="4.2">
<text transform="translate(683.89 519.43) scale(0.8905 1)">π</text>
<path d="M696.30 462.52 Q689.80 462.19 685.90 471.72" fill="none" stroke="#10d0f8" stroke-width="8.22"/>
</g>
<g fill="#a0ff60" stroke="#a0ff60" stroke-width="2.4">
<text transform="translate(683.89 519.43) scale(0.8905 1)">π</text>
<path d="M696.30 462.52 Q689.80 462.19 685.90 471.72" fill="none" stroke="#a0ff60" stroke-width="6.42"/>
</g>
<g fill="#ffe010" stroke="#ffe010" stroke-width="0.6">
<text transform="translate(683.89 519.43) scale(0.8905 1)">π</text>
<path d="M696.30 462.52 Q689.80 462.19 685.90 471.72" fill="none" stroke="#ffe010" stroke-width="4.62"/>
</g>
<g fill="#ff8808" stroke="none" filter="url(#er8)">
<text transform="translate(683.89 519.43) scale(0.8905 1)">π</text>
<path d="M696.30 462.52 Q689.80 462.19 685.90 471.72" fill="none" stroke="#ff8808" stroke-width="4.02"/>
</g>
<g fill="#f03c08" stroke="none" filter="url(#er18)">
<text transform="translate(683.89 519.43) scale(0.8905 1)">π</text>
<path d="M696.30 462.52 Q689.80 462.19 685.90 471.72" fill="none" stroke="#f03c08" stroke-width="4.02"/>
</g>
</g>
</g>
<text x="667.90" y="443.30" font-size="5.6" text-anchor="end">1100</text>
<line x1="669.00" y1="441.30" x2="670.50" y2="441.30" stroke="#000" stroke-width="0.4" />
<text x="667.90" y="463.04" font-size="5.6" text-anchor="end">660</text>
<line x1="669.00" y1="461.04" x2="670.50" y2="461.04" stroke="#000" stroke-width="0.4" />
<text x="667.90" y="482.78" font-size="5.6" text-anchor="end">220</text>
<line x1="669.00" y1="480.78" x2="670.50" y2="480.78" stroke="#000" stroke-width="0.4" />
<text x="667.90" y="502.52" font-size="5.6" text-anchor="end">-220</text>
<line x1="669.00" y1="500.52" x2="670.50" y2="500.52" stroke="#000" stroke-width="0.4" />
<text x="667.90" y="522.26" font-size="5.6" text-anchor="end">-660</text>
<line x1="669.00" y1="520.26" x2="670.50" y2="520.26" stroke="#000" stroke-width="0.4" />
<text x="667.90" y="542.00" font-size="5.6" text-anchor="end">-1100</text>
<line x1="669.00" y1="540.00" x2="670.50" y2="540.00" stroke="#000" stroke-width="0.4" />
<text x="670.50" y="547.20" font-size="5.6" text-anchor="middle">-1100</text>
<line x1="670.50" y1="540.00" x2="670.50" y2="541.50" stroke="#000" stroke-width="0.4" />
<text x="690.20" y="547.20" font-size="5.6" text-anchor="middle">-660</text>
<line x1="690.20" y1="540.00" x2="690.20" y2="541.50" stroke="#000" stroke-width="0.4" />
<text x="709.90" y="547.20" font-size="5.6" text-anchor="middle">-220</text>
<line x1="709.90" y1="540.00" x2="709.90" y2="541.50" stroke="#000" stroke-width="0.4" />
<text x="729.60" y="547.20" font-size="5.6" text-anchor="middle">220</text>
<line x1="729.60" y1="540.00" x2="729.60" y2="541.50" stroke="#000" stroke-width="0.4" />
<text x="749.30" y="547.20" font-size="5.6" text-anchor="middle">660</text>
<line x1="749.30" y1="540.00" x2="749.30" y2="541.50" stroke="#000" stroke-width="0.4" />
<text x="769.00" y="547.20" font-size="5.6" text-anchor="middle">1100</text>
<line x1="769.00" y1="540.00" x2="769.00" y2="541.50" stroke="#000" stroke-width="0.4" />
<rect x="776.30" y="441.30" width="4.90" height="98.70" fill="url(#jetv)" />
<line x1="781.20" y1="444.50" x2="782.70" y2="444.50" stroke="#000" stroke-width="0.4" />
<text x="783.80" y="446.60" font-size="6.199999999999999">5</text>
<line x1="781.20" y1="464.00" x2="782.70" y2="464.00" stroke="#000" stroke-width="0.4" />
<text x="783.80" y="466.10" font-size="6.199999999999999">4</text>
<line x1="781.20" y1="483.00" x2="782.70" y2="483.00" stroke="#000" stroke-width="0.4" />
<text x="783.80" y="485.10" font-size="6.199999999999999">3</text>
<line x1="781.20" y1="502.50" x2="782.70" y2="502.50" stroke="#000" stroke-width="0.4" />
<text x="783.80" y="504.60" font-size="6.199999999999999">2</text>
<line x1="781.20" y1="521.50" x2="782.70" y2="521.50" stroke="#000" stroke-width="0.4" />
<text x="783.80" y="523.60" font-size="6.199999999999999">1</text>
<text x="763.30" y="440.10" font-size="6.199999999999999">×10</text>
<text x="773.60" y="436.90" font-size="3.9999999999999996">−4</text>
<text transform="translate(796.2 491.6) rotate(-90)" font-size="6.199999999999999" text-anchor="middle"><tspan font-style="italic">E</tspan> / <tspan font-style="italic">W</tspan> · mm<tspan font-size="4.199999999999999" dy="-2">−2</tspan></text>
<clipPath id="ch6"><rect x="820.6" y="441.3" width="99.19999999999993" height="98.69999999999999"/></clipPath>
<g clip-path="url(#ch6)">
<rect x="820.60" y="441.30" width="99.20" height="98.70" fill="#000894" />
<ellipse cx="870.6" cy="491.3" rx="34" ry="32" fill="#0018c0" filter="url(#b8)"/>
<g filter="url(#b1)" font-family="'Liberation Sans', sans-serif" font-style="italic" font-size="114.95" stroke-linejoin="round" stroke-linecap="round" >
<g fill="#0058ff" stroke="#0058ff" stroke-width="6.8">
<text transform="translate(833.99 519.43) scale(0.8905 1)">π</text>
<path d="M846.40 462.52 Q839.90 462.19 836.00 471.72" fill="none" stroke="#0058ff" stroke-width="10.82"/>
</g>
<g fill="#10d0f8" stroke="#10d0f8" stroke-width="4.6">
<text transform="translate(833.99 519.43) scale(0.8905 1)">π</text>
<path d="M846.40 462.52 Q839.90 462.19 836.00 471.72" fill="none" stroke="#10d0f8" stroke-width="8.62"/>
</g>
<g fill="#a0ff60" stroke="#a0ff60" stroke-width="2.8">
<text transform="translate(833.99 519.43) scale(0.8905 1)">π</text>
<path d="M846.40 462.52 Q839.90 462.19 836.00 471.72" fill="none" stroke="#a0ff60" stroke-width="6.82"/>
</g>
<g fill="#ffe010" stroke="#ffe010" stroke-width="1.0">
<text transform="translate(833.99 519.43) scale(0.8905 1)">π</text>
<path d="M846.40 462.52 Q839.90 462.19 836.00 471.72" fill="none" stroke="#ffe010" stroke-width="5.02"/>
</g>
<g fill="#ff7008" stroke="none" filter="url(#er6)">
<text transform="translate(833.99 519.43) scale(0.8905 1)">π</text>
<path d="M846.40 462.52 Q839.90 462.19 836.00 471.72" fill="none" stroke="#ff7008" stroke-width="4.02"/>
</g>
<g fill="#e81800" stroke="none" filter="url(#er15)">
<text transform="translate(833.99 519.43) scale(0.8905 1)">π</text>
<path d="M846.40 462.52 Q839.90 462.19 836.00 471.72" fill="none" stroke="#e81800" stroke-width="4.02"/>
</g>
</g>
</g>
<text x="818.00" y="443.30" font-size="5.6" text-anchor="end">1100</text>
<line x1="819.10" y1="441.30" x2="820.60" y2="441.30" stroke="#000" stroke-width="0.4" />
<text x="818.00" y="463.04" font-size="5.6" text-anchor="end">660</text>
<line x1="819.10" y1="461.04" x2="820.60" y2="461.04" stroke="#000" stroke-width="0.4" />
<text x="818.00" y="482.78" font-size="5.6" text-anchor="end">220</text>
<line x1="819.10" y1="480.78" x2="820.60" y2="480.78" stroke="#000" stroke-width="0.4" />
<text x="818.00" y="502.52" font-size="5.6" text-anchor="end">-220</text>
<line x1="819.10" y1="500.52" x2="820.60" y2="500.52" stroke="#000" stroke-width="0.4" />
<text x="818.00" y="522.26" font-size="5.6" text-anchor="end">-660</text>
<line x1="819.10" y1="520.26" x2="820.60" y2="520.26" stroke="#000" stroke-width="0.4" />
<text x="818.00" y="542.00" font-size="5.6" text-anchor="end">-1100</text>
<line x1="819.10" y1="540.00" x2="820.60" y2="540.00" stroke="#000" stroke-width="0.4" />
<text x="820.60" y="547.20" font-size="5.6" text-anchor="middle">-1100</text>
<line x1="820.60" y1="540.00" x2="820.60" y2="541.50" stroke="#000" stroke-width="0.4" />
<text x="840.44" y="547.20" font-size="5.6" text-anchor="middle">-660</text>
<line x1="840.44" y1="540.00" x2="840.44" y2="541.50" stroke="#000" stroke-width="0.4" />
<text x="860.28" y="547.20" font-size="5.6" text-anchor="middle">-220</text>
<line x1="860.28" y1="540.00" x2="860.28" y2="541.50" stroke="#000" stroke-width="0.4" />
<text x="880.12" y="547.20" font-size="5.6" text-anchor="middle">220</text>
<line x1="880.12" y1="540.00" x2="880.12" y2="541.50" stroke="#000" stroke-width="0.4" />
<text x="899.96" y="547.20" font-size="5.6" text-anchor="middle">660</text>
<line x1="899.96" y1="540.00" x2="899.96" y2="541.50" stroke="#000" stroke-width="0.4" />
<text x="919.80" y="547.20" font-size="5.6" text-anchor="middle">1100</text>
<line x1="919.80" y1="540.00" x2="919.80" y2="541.50" stroke="#000" stroke-width="0.4" />
<rect x="925.80" y="441.30" width="5.40" height="98.70" fill="url(#jetv)" />
<line x1="931.20" y1="449.50" x2="932.70" y2="449.50" stroke="#000" stroke-width="0.4" />
<text x="933.80" y="451.60" font-size="6.199999999999999">4</text>
<line x1="931.20" y1="472.00" x2="932.70" y2="472.00" stroke="#000" stroke-width="0.4" />
<text x="933.80" y="474.10" font-size="6.199999999999999">3</text>
<line x1="931.20" y1="494.50" x2="932.70" y2="494.50" stroke="#000" stroke-width="0.4" />
<text x="933.80" y="496.60" font-size="6.199999999999999">2</text>
<line x1="931.20" y1="517.00" x2="932.70" y2="517.00" stroke="#000" stroke-width="0.4" />
<text x="933.80" y="519.10" font-size="6.199999999999999">1</text>
<text x="912.80" y="440.10" font-size="6.199999999999999">×10</text>
<text x="923.10" y="436.90" font-size="3.9999999999999996">−5</text>
<text transform="translate(946.2 491.6) rotate(-90)" font-size="6.199999999999999" text-anchor="middle"><tspan font-style="italic">E</tspan> / <tspan font-style="italic">W</tspan> · mm<tspan font-size="4.199999999999999" dy="-2">−2</tspan></text>
<line x1="31.80" y1="597.60" x2="31.80" y2="564.00" stroke="#000" stroke-width="1.65" />
<polygon points="31.8,557 25.9,567.8 31.8,565 37.7,567.8" fill="#000"/>
<line x1="22.00" y1="588.90" x2="62.00" y2="588.90" stroke="#000" stroke-width="1.65" />
<polygon points="68.9,588.9 57.8,583.1 60.8,588.9 57.8,594.7" fill="#000"/>
<text x="42.60" y="566.90" font-size="14.6">Y / mm</text>
<text x="77.80" y="591.60" font-size="14.7">X / mm</text>
<polygon points="216.3,581.2 767.4,581.2 767.4,577 785.6,584.6 767.4,591.6 767.4,588 216.3,588" fill="url(#ga1)"/>
<line x1="216.50" y1="581.20" x2="216.50" y2="588.00" stroke="#4a74a0" stroke-width="0.8" />
<text x="492.50" y="573.80" font-size="16" text-anchor="middle">More details</text>
<line x1="7.90" y1="602.00" x2="953.00" y2="602.00" stroke="#000" stroke-width="1.75" stroke-dasharray="5 3.63"/>
<text x="17.00" y="634.20" font-size="26">(d)</text>
<text x="353.00" y="627.50" font-size="19.85" text-anchor="middle">Design results of different size constraints</text>
<g fill="none"><line x1="91.00" y1="745.12" x2="138.97" y2="711.64" stroke="#cdcdcd" stroke-width="0.55"/><line x1="174.20" y1="770.20" x2="89.53" y2="742.68" stroke="#cdcdcd" stroke-width="0.55"/><line x1="110.52" y1="751.56" x2="157.18" y2="715.32" stroke="#cdcdcd" stroke-width="0.55"/><line x1="183.97" y1="759.85" x2="100.61" y2="735.09" stroke="#cdcdcd" stroke-width="0.55"/><line x1="130.05" y1="758.00" x2="175.40" y2="719.00" stroke="#cdcdcd" stroke-width="0.55"/><line x1="193.75" y1="749.50" x2="111.70" y2="727.50" stroke="#cdcdcd" stroke-width="0.55"/><line x1="149.58" y1="764.44" x2="193.62" y2="722.68" stroke="#cdcdcd" stroke-width="0.55"/><line x1="203.53" y1="739.15" x2="122.79" y2="719.91" stroke="#cdcdcd" stroke-width="0.55"/><line x1="169.10" y1="770.88" x2="211.83" y2="726.36" stroke="#cdcdcd" stroke-width="0.55"/><line x1="213.30" y1="728.80" x2="133.87" y2="712.32" stroke="#cdcdcd" stroke-width="0.55"/><line x1="89.53" y1="742.68" x2="88.28" y2="681.05" stroke="#b4b4b4" stroke-width="0.7"/><line x1="138.97" y1="711.64" x2="139.07" y2="647.00" stroke="#b4b4b4" stroke-width="0.7"/><line x1="100.61" y1="735.09" x2="99.67" y2="672.70" stroke="#b4b4b4" stroke-width="0.7"/><line x1="157.18" y1="715.32" x2="157.86" y2="651.63" stroke="#b4b4b4" stroke-width="0.7"/><line x1="111.70" y1="727.50" x2="111.05" y2="664.35" stroke="#b4b4b4" stroke-width="0.7"/><line x1="175.40" y1="719.00" x2="176.65" y2="656.25" stroke="#b4b4b4" stroke-width="0.7"/><line x1="122.79" y1="719.91" x2="122.44" y2="656.00" stroke="#b4b4b4" stroke-width="0.7"/><line x1="193.62" y1="722.68" x2="195.44" y2="660.87" stroke="#b4b4b4" stroke-width="0.7"/><line x1="133.87" y1="712.32" x2="133.82" y2="647.65" stroke="#b4b4b4" stroke-width="0.7"/><line x1="211.83" y1="726.36" x2="214.23" y2="665.50" stroke="#b4b4b4" stroke-width="0.7"/><line x1="135.80" y1="711.00" x2="135.80" y2="646.20" stroke="#a8a8a8" stroke-width="0.8"/><line x1="87.60" y1="744.00" x2="86.30" y2="682.50" stroke="#b4b4b4" stroke-width="0.6"/><line x1="215.00" y1="727.00" x2="217.50" y2="666.30" stroke="#b4b4b4" stroke-width="0.6"/><line x1="135.80" y1="711.00" x2="87.60" y2="744.00" stroke="#a4a4a4" stroke-width="0.55" stroke-dasharray="1.8 1.2"/><line x1="135.80" y1="711.00" x2="215.00" y2="727.00" stroke="#a4a4a4" stroke-width="0.55" stroke-dasharray="1.8 1.2"/><line x1="135.80" y1="694.80" x2="87.27" y2="728.62" stroke="#a4a4a4" stroke-width="0.55" stroke-dasharray="1.8 1.2"/><line x1="135.80" y1="694.80" x2="215.62" y2="711.83" stroke="#a4a4a4" stroke-width="0.55" stroke-dasharray="1.8 1.2"/><line x1="135.80" y1="678.60" x2="86.95" y2="713.25" stroke="#a4a4a4" stroke-width="0.55" stroke-dasharray="1.8 1.2"/><line x1="135.80" y1="678.60" x2="216.25" y2="696.65" stroke="#a4a4a4" stroke-width="0.55" stroke-dasharray="1.8 1.2"/><line x1="135.80" y1="662.40" x2="86.62" y2="697.88" stroke="#a4a4a4" stroke-width="0.55" stroke-dasharray="1.8 1.2"/><line x1="135.80" y1="662.40" x2="216.88" y2="681.47" stroke="#a4a4a4" stroke-width="0.55" stroke-dasharray="1.8 1.2"/><line x1="135.80" y1="646.20" x2="86.30" y2="682.50" stroke="#a4a4a4" stroke-width="0.55" stroke-dasharray="1.8 1.2"/><line x1="135.80" y1="646.20" x2="217.50" y2="666.30" stroke="#a4a4a4" stroke-width="0.55" stroke-dasharray="1.8 1.2"/><line x1="87.60" y1="744.00" x2="172.50" y2="772.00" stroke="#222" stroke-width="1.5" stroke-dasharray="0.7 1.1"/><line x1="172.50" y1="772.00" x2="215.00" y2="727.00" stroke="#222" stroke-width="1.0"/><line x1="172.50" y1="772.00" x2="215.00" y2="727.00" stroke="#222" stroke-width="2.2" stroke-dasharray="0.7 5.2"/><line x1="217.60" y1="666.30" x2="217.60" y2="699.50" stroke="#222" stroke-width="0.9"/><line x1="217.60" y1="670.50" x2="219.80" y2="670.50" stroke="#222" stroke-width="0.7"/><line x1="217.60" y1="685.00" x2="219.80" y2="685.00" stroke="#222" stroke-width="0.7"/><line x1="217.60" y1="699.50" x2="219.80" y2="699.50" stroke="#222" stroke-width="0.7"/><line x1="217.60" y1="713.80" x2="219.80" y2="713.80" stroke="#222" stroke-width="0.7"/><line x1="217.60" y1="728.00" x2="219.80" y2="728.00" stroke="#222" stroke-width="0.7"/></g>
<text x="228.80" y="673.60" font-size="8.8" text-anchor="middle">18</text>
<text x="228.80" y="688.10" font-size="8.8" text-anchor="middle">12</text>
<text x="228.80" y="702.60" font-size="8.8" text-anchor="middle">6</text>
<text x="228.80" y="716.90" font-size="8.8" text-anchor="middle">0</text>
<text x="227.60" y="731.10" font-size="8.8" text-anchor="middle">−6</text>
<text x="240.60" y="694.50" font-size="8.8" text-anchor="middle" transform="rotate(-90 240.60 694.50)">Z / mm</text>
<text x="86.30" y="761.10" font-size="8.8" text-anchor="middle">−12</text>
<text x="105.00" y="767.40" font-size="8.8" text-anchor="middle">−6</text>
<text x="124.50" y="773.90" font-size="8.8" text-anchor="middle">0</text>
<text x="144.50" y="780.60" font-size="8.8" text-anchor="middle">6</text>
<text x="166.30" y="787.60" font-size="8.8" text-anchor="middle">12</text>
<text x="118.80" y="783.50" font-size="8.8" text-anchor="middle" transform="rotate(18 118.80 783.50)">X / mm</text>
<text x="181.30" y="785.60" font-size="8.8" text-anchor="middle">−12</text>
<text x="191.30" y="773.90" font-size="8.8" text-anchor="middle">−6</text>
<text x="201.30" y="762.40" font-size="8.8" text-anchor="middle">0</text>
<text x="211.30" y="752.40" font-size="8.8" text-anchor="middle">6</text>
<text x="221.30" y="741.40" font-size="8.8" text-anchor="middle">12</text>
<text x="213.00" y="768.00" font-size="8.8" text-anchor="middle" transform="rotate(-48 213.00 768.00)">Y / mm</text>
<g fill="none"><line x1="289.00" y1="745.12" x2="336.97" y2="711.64" stroke="#cdcdcd" stroke-width="0.55"/><line x1="372.20" y1="770.20" x2="287.53" y2="742.68" stroke="#cdcdcd" stroke-width="0.55"/><line x1="308.52" y1="751.56" x2="355.18" y2="715.32" stroke="#cdcdcd" stroke-width="0.55"/><line x1="381.98" y1="759.85" x2="298.61" y2="735.09" stroke="#cdcdcd" stroke-width="0.55"/><line x1="328.05" y1="758.00" x2="373.40" y2="719.00" stroke="#cdcdcd" stroke-width="0.55"/><line x1="391.75" y1="749.50" x2="309.70" y2="727.50" stroke="#cdcdcd" stroke-width="0.55"/><line x1="347.58" y1="764.44" x2="391.62" y2="722.68" stroke="#cdcdcd" stroke-width="0.55"/><line x1="401.52" y1="739.15" x2="320.79" y2="719.91" stroke="#cdcdcd" stroke-width="0.55"/><line x1="367.10" y1="770.88" x2="409.83" y2="726.36" stroke="#cdcdcd" stroke-width="0.55"/><line x1="411.30" y1="728.80" x2="331.87" y2="712.32" stroke="#cdcdcd" stroke-width="0.55"/><line x1="287.53" y1="742.68" x2="286.28" y2="681.05" stroke="#b4b4b4" stroke-width="0.7"/><line x1="336.97" y1="711.64" x2="337.07" y2="647.00" stroke="#b4b4b4" stroke-width="0.7"/><line x1="298.61" y1="735.09" x2="297.67" y2="672.70" stroke="#b4b4b4" stroke-width="0.7"/><line x1="355.18" y1="715.32" x2="355.86" y2="651.63" stroke="#b4b4b4" stroke-width="0.7"/><line x1="309.70" y1="727.50" x2="309.05" y2="664.35" stroke="#b4b4b4" stroke-width="0.7"/><line x1="373.40" y1="719.00" x2="374.65" y2="656.25" stroke="#b4b4b4" stroke-width="0.7"/><line x1="320.79" y1="719.91" x2="320.44" y2="656.00" stroke="#b4b4b4" stroke-width="0.7"/><line x1="391.62" y1="722.68" x2="393.44" y2="660.87" stroke="#b4b4b4" stroke-width="0.7"/><line x1="331.87" y1="712.32" x2="331.82" y2="647.65" stroke="#b4b4b4" stroke-width="0.7"/><line x1="409.83" y1="726.36" x2="412.23" y2="665.50" stroke="#b4b4b4" stroke-width="0.7"/><line x1="333.80" y1="711.00" x2="333.80" y2="646.20" stroke="#a8a8a8" stroke-width="0.8"/><line x1="285.60" y1="744.00" x2="284.30" y2="682.50" stroke="#b4b4b4" stroke-width="0.6"/><line x1="413.00" y1="727.00" x2="415.50" y2="666.30" stroke="#b4b4b4" stroke-width="0.6"/><line x1="333.80" y1="711.00" x2="285.60" y2="744.00" stroke="#a4a4a4" stroke-width="0.55" stroke-dasharray="1.8 1.2"/><line x1="333.80" y1="711.00" x2="413.00" y2="727.00" stroke="#a4a4a4" stroke-width="0.55" stroke-dasharray="1.8 1.2"/><line x1="333.80" y1="694.80" x2="285.28" y2="728.62" stroke="#a4a4a4" stroke-width="0.55" stroke-dasharray="1.8 1.2"/><line x1="333.80" y1="694.80" x2="413.62" y2="711.83" stroke="#a4a4a4" stroke-width="0.55" stroke-dasharray="1.8 1.2"/><line x1="333.80" y1="678.60" x2="284.95" y2="713.25" stroke="#a4a4a4" stroke-width="0.55" stroke-dasharray="1.8 1.2"/><line x1="333.80" y1="678.60" x2="414.25" y2="696.65" stroke="#a4a4a4" stroke-width="0.55" stroke-dasharray="1.8 1.2"/><line x1="333.80" y1="662.40" x2="284.62" y2="697.88" stroke="#a4a4a4" stroke-width="0.55" stroke-dasharray="1.8 1.2"/><line x1="333.80" y1="662.40" x2="414.88" y2="681.47" stroke="#a4a4a4" stroke-width="0.55" stroke-dasharray="1.8 1.2"/><line x1="333.80" y1="646.20" x2="284.30" y2="682.50" stroke="#a4a4a4" stroke-width="0.55" stroke-dasharray="1.8 1.2"/><line x1="333.80" y1="646.20" x2="415.50" y2="666.30" stroke="#a4a4a4" stroke-width="0.55" stroke-dasharray="1.8 1.2"/><line x1="285.60" y1="744.00" x2="370.50" y2="772.00" stroke="#222" stroke-width="1.5" stroke-dasharray="0.7 1.1"/><line x1="370.50" y1="772.00" x2="413.00" y2="727.00" stroke="#222" stroke-width="1.0"/><line x1="370.50" y1="772.00" x2="413.00" y2="727.00" stroke="#222" stroke-width="2.2" stroke-dasharray="0.7 5.2"/><line x1="415.60" y1="666.30" x2="415.60" y2="699.50" stroke="#222" stroke-width="0.9"/><line x1="415.60" y1="670.50" x2="417.80" y2="670.50" stroke="#222" stroke-width="0.7"/><line x1="415.60" y1="685.00" x2="417.80" y2="685.00" stroke="#222" stroke-width="0.7"/><line x1="415.60" y1="699.50" x2="417.80" y2="699.50" stroke="#222" stroke-width="0.7"/><line x1="415.60" y1="713.80" x2="417.80" y2="713.80" stroke="#222" stroke-width="0.7"/><line x1="415.60" y1="728.00" x2="417.80" y2="728.00" stroke="#222" stroke-width="0.7"/></g>
<text x="426.80" y="673.60" font-size="8.8" text-anchor="middle">18</text>
<text x="426.80" y="688.10" font-size="8.8" text-anchor="middle">12</text>
<text x="426.80" y="702.60" font-size="8.8" text-anchor="middle">6</text>
<text x="426.80" y="716.90" font-size="8.8" text-anchor="middle">0</text>
<text x="425.60" y="731.10" font-size="8.8" text-anchor="middle">−6</text>
<text x="438.60" y="694.50" font-size="8.8" text-anchor="middle" transform="rotate(-90 438.60 694.50)">Z / mm</text>
<text x="284.30" y="761.10" font-size="8.8" text-anchor="middle">−12</text>
<text x="303.00" y="767.40" font-size="8.8" text-anchor="middle">−6</text>
<text x="322.50" y="773.90" font-size="8.8" text-anchor="middle">0</text>
<text x="342.50" y="780.60" font-size="8.8" text-anchor="middle">6</text>
<text x="364.30" y="787.60" font-size="8.8" text-anchor="middle">12</text>
<text x="316.80" y="783.50" font-size="8.8" text-anchor="middle" transform="rotate(18 316.80 783.50)">X / mm</text>
<text x="379.30" y="785.60" font-size="8.8" text-anchor="middle">−12</text>
<text x="389.30" y="773.90" font-size="8.8" text-anchor="middle">−6</text>
<text x="399.30" y="762.40" font-size="8.8" text-anchor="middle">0</text>
<text x="409.30" y="752.40" font-size="8.8" text-anchor="middle">6</text>
<text x="419.30" y="741.40" font-size="8.8" text-anchor="middle">12</text>
<text x="411.00" y="768.00" font-size="8.8" text-anchor="middle" transform="rotate(-48 411.00 768.00)">Y / mm</text>
<g fill="none"><line x1="481.00" y1="745.12" x2="528.97" y2="711.64" stroke="#cdcdcd" stroke-width="0.55"/><line x1="564.20" y1="770.20" x2="479.53" y2="742.68" stroke="#cdcdcd" stroke-width="0.55"/><line x1="500.52" y1="751.56" x2="547.18" y2="715.32" stroke="#cdcdcd" stroke-width="0.55"/><line x1="573.98" y1="759.85" x2="490.61" y2="735.09" stroke="#cdcdcd" stroke-width="0.55"/><line x1="520.05" y1="758.00" x2="565.40" y2="719.00" stroke="#cdcdcd" stroke-width="0.55"/><line x1="583.75" y1="749.50" x2="501.70" y2="727.50" stroke="#cdcdcd" stroke-width="0.55"/><line x1="539.58" y1="764.44" x2="583.62" y2="722.68" stroke="#cdcdcd" stroke-width="0.55"/><line x1="593.52" y1="739.15" x2="512.79" y2="719.91" stroke="#cdcdcd" stroke-width="0.55"/><line x1="559.10" y1="770.88" x2="601.83" y2="726.36" stroke="#cdcdcd" stroke-width="0.55"/><line x1="603.30" y1="728.80" x2="523.87" y2="712.32" stroke="#cdcdcd" stroke-width="0.55"/><line x1="479.53" y1="742.68" x2="478.28" y2="681.05" stroke="#b4b4b4" stroke-width="0.7"/><line x1="528.97" y1="711.64" x2="529.07" y2="647.00" stroke="#b4b4b4" stroke-width="0.7"/><line x1="490.61" y1="735.09" x2="489.67" y2="672.70" stroke="#b4b4b4" stroke-width="0.7"/><line x1="547.18" y1="715.32" x2="547.86" y2="651.63" stroke="#b4b4b4" stroke-width="0.7"/><line x1="501.70" y1="727.50" x2="501.05" y2="664.35" stroke="#b4b4b4" stroke-width="0.7"/><line x1="565.40" y1="719.00" x2="566.65" y2="656.25" stroke="#b4b4b4" stroke-width="0.7"/><line x1="512.79" y1="719.91" x2="512.43" y2="656.00" stroke="#b4b4b4" stroke-width="0.7"/><line x1="583.62" y1="722.68" x2="585.44" y2="660.87" stroke="#b4b4b4" stroke-width="0.7"/><line x1="523.87" y1="712.32" x2="523.82" y2="647.65" stroke="#b4b4b4" stroke-width="0.7"/><line x1="601.83" y1="726.36" x2="604.23" y2="665.50" stroke="#b4b4b4" stroke-width="0.7"/><line x1="525.80" y1="711.00" x2="525.80" y2="646.20" stroke="#a8a8a8" stroke-width="0.8"/><line x1="477.60" y1="744.00" x2="476.30" y2="682.50" stroke="#b4b4b4" stroke-width="0.6"/><line x1="605.00" y1="727.00" x2="607.50" y2="666.30" stroke="#b4b4b4" stroke-width="0.6"/><line x1="525.80" y1="711.00" x2="477.60" y2="744.00" stroke="#a4a4a4" stroke-width="0.55" stroke-dasharray="1.8 1.2"/><line x1="525.80" y1="711.00" x2="605.00" y2="727.00" stroke="#a4a4a4" stroke-width="0.55" stroke-dasharray="1.8 1.2"/><line x1="525.80" y1="694.80" x2="477.28" y2="728.62" stroke="#a4a4a4" stroke-width="0.55" stroke-dasharray="1.8 1.2"/><line x1="525.80" y1="694.80" x2="605.62" y2="711.83" stroke="#a4a4a4" stroke-width="0.55" stroke-dasharray="1.8 1.2"/><line x1="525.80" y1="678.60" x2="476.95" y2="713.25" stroke="#a4a4a4" stroke-width="0.55" stroke-dasharray="1.8 1.2"/><line x1="525.80" y1="678.60" x2="606.25" y2="696.65" stroke="#a4a4a4" stroke-width="0.55" stroke-dasharray="1.8 1.2"/><line x1="525.80" y1="662.40" x2="476.62" y2="697.88" stroke="#a4a4a4" stroke-width="0.55" stroke-dasharray="1.8 1.2"/><line x1="525.80" y1="662.40" x2="606.88" y2="681.47" stroke="#a4a4a4" stroke-width="0.55" stroke-dasharray="1.8 1.2"/><line x1="525.80" y1="646.20" x2="476.30" y2="682.50" stroke="#a4a4a4" stroke-width="0.55" stroke-dasharray="1.8 1.2"/><line x1="525.80" y1="646.20" x2="607.50" y2="666.30" stroke="#a4a4a4" stroke-width="0.55" stroke-dasharray="1.8 1.2"/><line x1="477.60" y1="744.00" x2="562.50" y2="772.00" stroke="#222" stroke-width="1.5" stroke-dasharray="0.7 1.1"/><line x1="562.50" y1="772.00" x2="605.00" y2="727.00" stroke="#222" stroke-width="1.0"/><line x1="562.50" y1="772.00" x2="605.00" y2="727.00" stroke="#222" stroke-width="2.2" stroke-dasharray="0.7 5.2"/><line x1="607.60" y1="666.30" x2="607.60" y2="699.50" stroke="#222" stroke-width="0.9"/><line x1="607.60" y1="670.50" x2="609.80" y2="670.50" stroke="#222" stroke-width="0.7"/><line x1="607.60" y1="685.00" x2="609.80" y2="685.00" stroke="#222" stroke-width="0.7"/><line x1="607.60" y1="699.50" x2="609.80" y2="699.50" stroke="#222" stroke-width="0.7"/><line x1="607.60" y1="713.80" x2="609.80" y2="713.80" stroke="#222" stroke-width="0.7"/><line x1="607.60" y1="728.00" x2="609.80" y2="728.00" stroke="#222" stroke-width="0.7"/></g>
<text x="618.80" y="673.60" font-size="8.8" text-anchor="middle">18</text>
<text x="618.80" y="688.10" font-size="8.8" text-anchor="middle">12</text>
<text x="618.80" y="702.60" font-size="8.8" text-anchor="middle">6</text>
<text x="618.80" y="716.90" font-size="8.8" text-anchor="middle">0</text>
<text x="617.60" y="731.10" font-size="8.8" text-anchor="middle">−6</text>
<text x="630.60" y="694.50" font-size="8.8" text-anchor="middle" transform="rotate(-90 630.60 694.50)">Z / mm</text>
<text x="476.30" y="761.10" font-size="8.8" text-anchor="middle">−12</text>
<text x="495.00" y="767.40" font-size="8.8" text-anchor="middle">−6</text>
<text x="514.50" y="773.90" font-size="8.8" text-anchor="middle">0</text>
<text x="534.50" y="780.60" font-size="8.8" text-anchor="middle">6</text>
<text x="556.30" y="787.60" font-size="8.8" text-anchor="middle">12</text>
<text x="508.80" y="783.50" font-size="8.8" text-anchor="middle" transform="rotate(18 508.80 783.50)">X / mm</text>
<text x="571.30" y="785.60" font-size="8.8" text-anchor="middle">−12</text>
<text x="581.30" y="773.90" font-size="8.8" text-anchor="middle">−6</text>
<text x="591.30" y="762.40" font-size="8.8" text-anchor="middle">0</text>
<text x="601.30" y="752.40" font-size="8.8" text-anchor="middle">6</text>
<text x="611.30" y="741.40" font-size="8.8" text-anchor="middle">12</text>
<text x="603.00" y="768.00" font-size="8.8" text-anchor="middle" transform="rotate(-48 603.00 768.00)">Y / mm</text>
<path d="M133.30 718.00 A19.60 16.00 0 0 1 172.50 718.00 A19.60 12.50 0 0 1 133.30 718.00 Z" fill="#5b8fbb" fill-opacity="0.86" transform="rotate(-4 152.9 718.0)"/>
<ellipse cx="151" cy="720.5" rx="17.5" ry="8.5" fill="#a9c4da" fill-opacity="0.9" transform="rotate(-3 151 720.5)"/>
<ellipse cx="150" cy="720.5" rx="10.5" ry="5.6" fill="#545f98" fill-opacity="0.92"/>
<ellipse cx="150" cy="720.5" rx="5.2" ry="2.8" fill="#474a86" fill-opacity="0.8" filter="url(#b1)"/>
<path d="M321.30 715.00 A30.00 25.00 0 0 1 381.30 715.00 A30.00 19.50 0 0 1 321.30 715.00 Z" fill="#5b8fbb" fill-opacity="0.86" transform="rotate(-4 351.3 715.0)"/>
<ellipse cx="350" cy="721" rx="27" ry="13" fill="#a9c4da" fill-opacity="0.9" transform="rotate(-3 350 721)"/>
<ellipse cx="349.5" cy="720.5" rx="14.5" ry="7.8" fill="#545f98" fill-opacity="0.92"/>
<ellipse cx="349.5" cy="720.5" rx="7.2" ry="3.9" fill="#474a86" fill-opacity="0.8" filter="url(#b1)"/>
<path d="M505.80 713.00 A38.60 33.00 0 0 1 583.00 713.00 A38.60 26.00 0 0 1 505.80 713.00 Z" fill="#5b8fbb" fill-opacity="0.86" transform="rotate(-4 544.4 713.0)"/>
<ellipse cx="543.8" cy="721" rx="36.5" ry="17" fill="#a9c4da" fill-opacity="0.9" transform="rotate(-3 543.8 721)"/>
<ellipse cx="542.5" cy="720.5" rx="15.5" ry="8.6" fill="#545f98" fill-opacity="0.92"/>
<ellipse cx="542.5" cy="720.5" rx="7.8" ry="4.3" fill="#474a86" fill-opacity="0.8" filter="url(#b1)"/>
<clipPath id="cd1"><rect x="93" y="803" width="122.5" height="122.79999999999995"/></clipPath>
<g clip-path="url(#cd1)">
<rect x="93.00" y="803.00" width="122.50" height="122.80" fill="#0008a0" />
<rect x="101" y="815" width="102" height="98" rx="12" fill="#0040f0" filter="url(#b8)"/>
<rect x="107" y="823" width="94" height="84" rx="10" fill="#0c80f8" filter="url(#b5)"/>
<g filter="url(#b3)" font-family="'Liberation Sans', sans-serif" font-style="italic" font-size="140.19" stroke-linejoin="round" stroke-linecap="round" >
<g fill="#10b0f8" stroke="#10b0f8" stroke-width="25">
<text transform="translate(107.91 899.80) scale(0.9661 1)">π</text>
</g>
<g fill="#30f0d0" stroke="#30f0d0" stroke-width="19">
<text transform="translate(107.91 899.80) scale(0.9661 1)">π</text>
</g>
</g>
<g filter="url(#b2)" font-family="'Liberation Sans', sans-serif" font-style="italic" font-size="140.19" stroke-linejoin="round" stroke-linecap="round" >
<g fill="#80ff80" stroke="#80ff80" stroke-width="15">
<text transform="translate(107.91 899.80) scale(0.9661 1)">π</text>
</g>
<g fill="#d8ff30" stroke="#d8ff30" stroke-width="11.5">
<text transform="translate(107.91 899.80) scale(0.9661 1)">π</text>
</g>
<g fill="#ffd810" stroke="#ffd810" stroke-width="8.5">
<text transform="translate(107.91 899.80) scale(0.9661 1)">π</text>
</g>
</g>
<g filter="url(#b2)" font-family="'Liberation Sans', sans-serif" font-style="italic" font-size="140.19" stroke-linejoin="round" stroke-linecap="round" >
<g fill="#ff9a10" stroke="#ff9a10" stroke-width="5">
<text transform="translate(107.91 899.80) scale(0.9661 1)">π</text>
</g>
<g fill="#ff6a10" stroke="#ff6a10" stroke-width="1.5">
<text transform="translate(107.91 899.80) scale(0.9661 1)">π</text>
</g>
</g>
<g filter="url(#b2)" opacity="0.85" font-family="'Liberation Sans', sans-serif" font-style="italic" font-size="140.19" stroke-linejoin="round" stroke-linecap="round" >
<g fill="#e02808" stroke="none" filter="url(#er18)">
<text transform="translate(107.91 899.80) scale(0.9661 1)">π</text>
</g>
</g>
<g filter="url(#b15)" opacity="0.6" font-family="'Liberation Sans', sans-serif" font-style="italic" font-size="140.19" stroke-linejoin="round" stroke-linecap="round" >
<g fill="#a80800" stroke="none" filter="url(#er38)">
<text transform="translate(107.91 899.80) scale(0.9661 1)">π</text>
</g>
</g>
</g>
<text x="90.00" y="805.20" font-size="6.2" text-anchor="end">150</text>
<line x1="91.20" y1="803.00" x2="93.00" y2="803.00" stroke="#000" stroke-width="0.45" />
<text x="215.50" y="934.00" font-size="6.2" text-anchor="middle">150</text>
<line x1="215.50" y1="925.80" x2="215.50" y2="927.60" stroke="#000" stroke-width="0.45" />
<text x="90.00" y="829.76" font-size="6.2" text-anchor="end">90</text>
<line x1="91.20" y1="827.56" x2="93.00" y2="827.56" stroke="#000" stroke-width="0.45" />
<text x="191.00" y="934.00" font-size="6.2" text-anchor="middle">90</text>
<line x1="191.00" y1="925.80" x2="191.00" y2="927.60" stroke="#000" stroke-width="0.45" />
<text x="90.00" y="854.32" font-size="6.2" text-anchor="end">30</text>
<line x1="91.20" y1="852.12" x2="93.00" y2="852.12" stroke="#000" stroke-width="0.45" />
<text x="166.50" y="934.00" font-size="6.2" text-anchor="middle">30</text>
<line x1="166.50" y1="925.80" x2="166.50" y2="927.60" stroke="#000" stroke-width="0.45" />
<text x="90.00" y="878.88" font-size="6.2" text-anchor="end">-30</text>
<line x1="91.20" y1="876.68" x2="93.00" y2="876.68" stroke="#000" stroke-width="0.45" />
<text x="142.00" y="934.00" font-size="6.2" text-anchor="middle">-30</text>
<line x1="142.00" y1="925.80" x2="142.00" y2="927.60" stroke="#000" stroke-width="0.45" />
<text x="90.00" y="903.44" font-size="6.2" text-anchor="end">-90</text>
<line x1="91.20" y1="901.24" x2="93.00" y2="901.24" stroke="#000" stroke-width="0.45" />
<text x="117.50" y="934.00" font-size="6.2" text-anchor="middle">-90</text>
<line x1="117.50" y1="925.80" x2="117.50" y2="927.60" stroke="#000" stroke-width="0.45" />
<text x="90.00" y="928.00" font-size="6.2" text-anchor="end">-150</text>
<line x1="91.20" y1="925.80" x2="93.00" y2="925.80" stroke="#000" stroke-width="0.45" />
<text x="93.00" y="934.00" font-size="6.2" text-anchor="middle">-150</text>
<line x1="93.00" y1="925.80" x2="93.00" y2="927.60" stroke="#000" stroke-width="0.45" />
<text x="69.40" y="864.40" font-size="7.5" text-anchor="middle" transform="rotate(-90 69.40 864.40)">Y / mm</text>
<text x="154.25" y="943.60" font-size="7.5" text-anchor="middle">X / mm</text>
<rect x="223.30" y="803.00" width="5.70" height="122.80" fill="url(#jetv)" />
<line x1="229.00" y1="816.80" x2="230.80" y2="816.80" stroke="#000" stroke-width="0.45" />
<text x="232.20" y="819.30" font-size="6.9">2.5</text>
<line x1="229.00" y1="838.80" x2="230.80" y2="838.80" stroke="#000" stroke-width="0.45" />
<text x="232.20" y="841.30" font-size="6.9">2.0</text>
<line x1="229.00" y1="860.50" x2="230.80" y2="860.50" stroke="#000" stroke-width="0.45" />
<text x="232.20" y="863.00" font-size="6.9">1.5</text>
<line x1="229.00" y1="882.50" x2="230.80" y2="882.50" stroke="#000" stroke-width="0.45" />
<text x="232.20" y="885.00" font-size="6.9">1.0</text>
<line x1="229.00" y1="904.30" x2="230.80" y2="904.30" stroke="#000" stroke-width="0.45" />
<text x="232.20" y="906.80" font-size="6.9">0.5</text>
<text x="207.80" y="801.40" font-size="6.9">×10</text>
<text x="221.50" y="797.60" font-size="4.8">−5</text>
<text transform="translate(250.5 864.4) rotate(-90)" font-size="7.5" text-anchor="middle"><tspan font-style="italic">E</tspan> / <tspan font-style="italic">W</tspan> · mm<tspan font-size="5.2" dy="-2.6">−2</tspan></text>
<clipPath id="cd2"><rect x="290" y="803" width="122.5" height="122.79999999999995"/></clipPath>
<g clip-path="url(#cd2)">
<rect x="290.00" y="803.00" width="122.50" height="122.80" fill="#0008a0" />
<rect x="304" y="819" width="94" height="90" rx="14" fill="#0028d8" filter="url(#b8)"/>
<g filter="url(#b2)" font-family="'Liberation Sans', sans-serif" font-style="italic" font-size="142.06" stroke-linejoin="round" stroke-linecap="round" >
<g fill="#0070ff" stroke="#0070ff" stroke-width="13">
<text transform="translate(308.19 902.29) scale(0.9090 1)">π</text>
<path d="M323.84 831.97 Q315.64 831.56 310.72 843.34" fill="none" stroke="#0070ff" stroke-width="17.97"/>
</g>
<g fill="#18d8f0" stroke="#18d8f0" stroke-width="9.5">
<text transform="translate(308.19 902.29) scale(0.9090 1)">π</text>
<path d="M323.84 831.97 Q315.64 831.56 310.72 843.34" fill="none" stroke="#18d8f0" stroke-width="14.47"/>
</g>
<g fill="#90ff70" stroke="#90ff70" stroke-width="7.5">
<text transform="translate(308.19 902.29) scale(0.9090 1)">π</text>
<path d="M323.84 831.97 Q315.64 831.56 310.72 843.34" fill="none" stroke="#90ff70" stroke-width="12.47"/>
</g>
<g fill="#ffe010" stroke="#ffe010" stroke-width="5.5">
<text transform="translate(308.19 902.29) scale(0.9090 1)">π</text>
<path d="M323.84 831.97 Q315.64 831.56 310.72 843.34" fill="none" stroke="#ffe010" stroke-width="10.47"/>
</g>
</g>
<g filter="url(#b15)" font-family="'Liberation Sans', sans-serif" font-style="italic" font-size="142.06" stroke-linejoin="round" stroke-linecap="round" >
<g fill="#ff9010" stroke="#ff9010" stroke-width="3.2">
<text transform="translate(308.19 902.29) scale(0.9090 1)">π</text>
<path d="M323.84 831.97 Q315.64 831.56 310.72 843.34" fill="none" stroke="#ff9010" stroke-width="8.17"/>
</g>
<g fill="#ff6010" stroke="#ff6010" stroke-width="0.6">
<text transform="translate(308.19 902.29) scale(0.9090 1)">π</text>
<path d="M323.84 831.97 Q315.64 831.56 310.72 843.34" fill="none" stroke="#ff6010" stroke-width="5.57"/>
</g>
</g>
<g filter="url(#b15)" opacity="0.85" font-family="'Liberation Sans', sans-serif" font-style="italic" font-size="142.06" stroke-linejoin="round" stroke-linecap="round" >
<g fill="#e02808" stroke="none" filter="url(#er16)">
<text transform="translate(308.19 902.29) scale(0.9090 1)">π</text>
</g>
</g>
<g filter="url(#b15)" opacity="0.55" font-family="'Liberation Sans', sans-serif" font-style="italic" font-size="142.06" stroke-linejoin="round" stroke-linecap="round" >
<g fill="#a80800" stroke="none" filter="url(#er35)">
<text transform="translate(308.19 902.29) scale(0.9090 1)">π</text>
</g>
</g>
</g>
<text x="287.00" y="805.20" font-size="6.2" text-anchor="end">150</text>
<line x1="288.20" y1="803.00" x2="290.00" y2="803.00" stroke="#000" stroke-width="0.45" />
<text x="412.50" y="934.00" font-size="6.2" text-anchor="middle">150</text>
<line x1="412.50" y1="925.80" x2="412.50" y2="927.60" stroke="#000" stroke-width="0.45" />
<text x="287.00" y="829.76" font-size="6.2" text-anchor="end">90</text>
<line x1="288.20" y1="827.56" x2="290.00" y2="827.56" stroke="#000" stroke-width="0.45" />
<text x="388.00" y="934.00" font-size="6.2" text-anchor="middle">90</text>
<line x1="388.00" y1="925.80" x2="388.00" y2="927.60" stroke="#000" stroke-width="0.45" />
<text x="287.00" y="854.32" font-size="6.2" text-anchor="end">30</text>
<line x1="288.20" y1="852.12" x2="290.00" y2="852.12" stroke="#000" stroke-width="0.45" />
<text x="363.50" y="934.00" font-size="6.2" text-anchor="middle">30</text>
<line x1="363.50" y1="925.80" x2="363.50" y2="927.60" stroke="#000" stroke-width="0.45" />
<text x="287.00" y="878.88" font-size="6.2" text-anchor="end">-30</text>
<line x1="288.20" y1="876.68" x2="290.00" y2="876.68" stroke="#000" stroke-width="0.45" />
<text x="339.00" y="934.00" font-size="6.2" text-anchor="middle">-30</text>
<line x1="339.00" y1="925.80" x2="339.00" y2="927.60" stroke="#000" stroke-width="0.45" />
<text x="287.00" y="903.44" font-size="6.2" text-anchor="end">-90</text>
<line x1="288.20" y1="901.24" x2="290.00" y2="901.24" stroke="#000" stroke-width="0.45" />
<text x="314.50" y="934.00" font-size="6.2" text-anchor="middle">-90</text>
<line x1="314.50" y1="925.80" x2="314.50" y2="927.60" stroke="#000" stroke-width="0.45" />
<text x="287.00" y="928.00" font-size="6.2" text-anchor="end">-150</text>
<line x1="288.20" y1="925.80" x2="290.00" y2="925.80" stroke="#000" stroke-width="0.45" />
<text x="290.00" y="934.00" font-size="6.2" text-anchor="middle">-150</text>
<line x1="290.00" y1="925.80" x2="290.00" y2="927.60" stroke="#000" stroke-width="0.45" />
<text x="266.40" y="864.40" font-size="7.5" text-anchor="middle" transform="rotate(-90 266.40 864.40)">Y / mm</text>
<text x="351.25" y="943.60" font-size="7.5" text-anchor="middle">X / mm</text>
<rect x="420.00" y="803.00" width="5.80" height="122.80" fill="url(#jetv)" />
<line x1="425.80" y1="832.00" x2="427.60" y2="832.00" stroke="#000" stroke-width="0.45" />
<text x="429.00" y="834.50" font-size="6.9">3</text>
<line x1="425.80" y1="863.30" x2="427.60" y2="863.30" stroke="#000" stroke-width="0.45" />
<text x="429.00" y="865.80" font-size="6.9">2</text>
<line x1="425.80" y1="894.50" x2="427.60" y2="894.50" stroke="#000" stroke-width="0.45" />
<text x="429.00" y="897.00" font-size="6.9">1</text>
<text x="404.50" y="801.40" font-size="6.9">×10</text>
<text x="418.20" y="797.60" font-size="4.8">−5</text>
<text transform="translate(442.0 864.4) rotate(-90)" font-size="7.5" text-anchor="middle"><tspan font-style="italic">E</tspan> / <tspan font-style="italic">W</tspan> · mm<tspan font-size="5.2" dy="-2.6">−2</tspan></text>
<clipPath id="cd3"><rect x="480.8" y="803" width="122.19999999999999" height="122.79999999999995"/></clipPath>
<g clip-path="url(#cd3)">
<rect x="480.80" y="803.00" width="122.20" height="122.80" fill="#0008a0" />
<rect x="496.8" y="821" width="90" height="86" rx="14" fill="#0018c0" filter="url(#b8)"/>
<g filter="url(#b15)" font-family="'Liberation Sans', sans-serif" font-style="italic" font-size="140.19" stroke-linejoin="round" stroke-linecap="round" >
<g fill="#0070ff" stroke="#0070ff" stroke-width="9.5">
<text transform="translate(501.13 902.30) scale(0.8987 1)">π</text>
<path d="M516.40 832.91 Q508.40 832.50 503.60 844.12" fill="none" stroke="#0070ff" stroke-width="14.41"/>
</g>
<g fill="#18d8f0" stroke="#18d8f0" stroke-width="7">
<text transform="translate(501.13 902.30) scale(0.8987 1)">π</text>
<path d="M516.40 832.91 Q508.40 832.50 503.60 844.12" fill="none" stroke="#18d8f0" stroke-width="11.91"/>
</g>
<g fill="#90ff70" stroke="#90ff70" stroke-width="5.2">
<text transform="translate(501.13 902.30) scale(0.8987 1)">π</text>
<path d="M516.40 832.91 Q508.40 832.50 503.60 844.12" fill="none" stroke="#90ff70" stroke-width="10.11"/>
</g>
<g fill="#ffe010" stroke="#ffe010" stroke-width="3.6">
<text transform="translate(501.13 902.30) scale(0.8987 1)">π</text>
<path d="M516.40 832.91 Q508.40 832.50 503.60 844.12" fill="none" stroke="#ffe010" stroke-width="8.51"/>
</g>
</g>
<g filter="url(#b1)" font-family="'Liberation Sans', sans-serif" font-style="italic" font-size="140.19" stroke-linejoin="round" stroke-linecap="round" >
<g fill="#ff9010" stroke="#ff9010" stroke-width="1.6">
<text transform="translate(501.13 902.30) scale(0.8987 1)">π</text>
<path d="M516.40 832.91 Q508.40 832.50 503.60 844.12" fill="none" stroke="#ff9010" stroke-width="6.51"/>
</g>
<g fill="#ff5a10" stroke="none" filter="url(#er6)">
<text transform="translate(501.13 902.30) scale(0.8987 1)">π</text>
<path d="M516.40 832.91 Q508.40 832.50 503.60 844.12" fill="none" stroke="#ff5a10" stroke-width="4.91"/>
</g>
</g>
<g filter="url(#b1)" opacity="0.85" font-family="'Liberation Sans', sans-serif" font-style="italic" font-size="140.19" stroke-linejoin="round" stroke-linecap="round" >
<g fill="#e02808" stroke="none" filter="url(#er20)">
<text transform="translate(501.13 902.30) scale(0.8987 1)">π</text>
</g>
</g>
<g filter="url(#b15)" opacity="0.5" font-family="'Liberation Sans', sans-serif" font-style="italic" font-size="140.19" stroke-linejoin="round" stroke-linecap="round" >
<g fill="#a80800" stroke="none" filter="url(#er38)">
<text transform="translate(501.13 902.30) scale(0.8987 1)">π</text>
</g>
</g>
</g>
<text x="477.80" y="805.20" font-size="6.2" text-anchor="end">150</text>
<line x1="479.00" y1="803.00" x2="480.80" y2="803.00" stroke="#000" stroke-width="0.45" />
<text x="603.00" y="934.00" font-size="6.2" text-anchor="middle">150</text>
<line x1="603.00" y1="925.80" x2="603.00" y2="927.60" stroke="#000" stroke-width="0.45" />
<text x="477.80" y="829.76" font-size="6.2" text-anchor="end">90</text>
<line x1="479.00" y1="827.56" x2="480.80" y2="827.56" stroke="#000" stroke-width="0.45" />
<text x="578.56" y="934.00" font-size="6.2" text-anchor="middle">90</text>
<line x1="578.56" y1="925.80" x2="578.56" y2="927.60" stroke="#000" stroke-width="0.45" />
<text x="477.80" y="854.32" font-size="6.2" text-anchor="end">30</text>
<line x1="479.00" y1="852.12" x2="480.80" y2="852.12" stroke="#000" stroke-width="0.45" />
<text x="554.12" y="934.00" font-size="6.2" text-anchor="middle">30</text>
<line x1="554.12" y1="925.80" x2="554.12" y2="927.60" stroke="#000" stroke-width="0.45" />
<text x="477.80" y="878.88" font-size="6.2" text-anchor="end">-30</text>
<line x1="479.00" y1="876.68" x2="480.80" y2="876.68" stroke="#000" stroke-width="0.45" />
<text x="529.68" y="934.00" font-size="6.2" text-anchor="middle">-30</text>
<line x1="529.68" y1="925.80" x2="529.68" y2="927.60" stroke="#000" stroke-width="0.45" />
<text x="477.80" y="903.44" font-size="6.2" text-anchor="end">-90</text>
<line x1="479.00" y1="901.24" x2="480.80" y2="901.24" stroke="#000" stroke-width="0.45" />
<text x="505.24" y="934.00" font-size="6.2" text-anchor="middle">-90</text>
<line x1="505.24" y1="925.80" x2="505.24" y2="927.60" stroke="#000" stroke-width="0.45" />
<text x="477.80" y="928.00" font-size="6.2" text-anchor="end">-150</text>
<line x1="479.00" y1="925.80" x2="480.80" y2="925.80" stroke="#000" stroke-width="0.45" />
<text x="480.80" y="934.00" font-size="6.2" text-anchor="middle">-150</text>
<line x1="480.80" y1="925.80" x2="480.80" y2="927.60" stroke="#000" stroke-width="0.45" />
<text x="457.20" y="864.40" font-size="7.5" text-anchor="middle" transform="rotate(-90 457.20 864.40)">Y / mm</text>
<text x="541.90" y="943.60" font-size="7.5" text-anchor="middle">X / mm</text>
<rect x="610.50" y="803.00" width="6.30" height="122.80" fill="url(#jetv)" />
<line x1="616.80" y1="812.00" x2="618.60" y2="812.00" stroke="#000" stroke-width="0.45" />
<text x="620.00" y="814.50" font-size="6.9">4</text>
<line x1="616.80" y1="840.60" x2="618.60" y2="840.60" stroke="#000" stroke-width="0.45" />
<text x="620.00" y="843.10" font-size="6.9">3</text>
<line x1="616.80" y1="869.30" x2="618.60" y2="869.30" stroke="#000" stroke-width="0.45" />
<text x="620.00" y="871.80" font-size="6.9">2</text>
<line x1="616.80" y1="898.00" x2="618.60" y2="898.00" stroke="#000" stroke-width="0.45" />
<text x="620.00" y="900.50" font-size="6.9">1</text>
<text x="595.00" y="801.40" font-size="6.9">×10</text>
<text x="608.70" y="797.60" font-size="4.8">−5</text>
<text transform="translate(633.0 864.4) rotate(-90)" font-size="7.5" text-anchor="middle"><tspan font-style="italic">E</tspan> / <tspan font-style="italic">W</tspan> · mm<tspan font-size="5.2" dy="-2.6">−2</tspan></text>
<polygon points="161.5,979 537,979 537,974.6 555.6,982.4 537,990 537,986.2 161.5,986.2" fill="url(#ga2)" stroke="#2f5f92" stroke-width="0.9" stroke-linejoin="miter"/>
<text x="353.30" y="971.30" font-size="17" text-anchor="middle">Larger size</text>
<line x1="667.50" y1="603.00" x2="667.50" y2="991.00" stroke="#000" stroke-width="1.3" stroke-dasharray="5 3.6"/>
<text x="685.80" y="634.20" font-size="26">(e)</text>
<text x="821.50" y="632.20" font-size="21.2" text-anchor="middle">Experiment</text>
<clipPath id="ce1"><rect x="727.3" y="644.2" width="183.30000000000007" height="164.69999999999993"/></clipPath>
<g clip-path="url(#ce1)">
<rect x="727.30" y="644.20" width="183.30" height="164.70" fill="url(#pg1)" />
<rect x="753.58" y="644.20" width="18.89" height="102.83" fill="#f1f4f7" fill-opacity="0.6"/>
<rect x="865.86" y="644.20" width="22.04" height="121.72" fill="#f1f4f7" fill-opacity="0.6"/>
<rect x="727.30" y="765.92" width="183.30" height="20.99" fill="#eef2f5" fill-opacity="0.7"/>
<rect x="727.30" y="747.45" width="44.12" height="18.05" fill="#fbfcfd" fill-opacity="0.9"/>
<g stroke="#2b2f35" stroke-width="0.95" stroke-dasharray="1.5 1.1"><line x1="733.6" y1="644.2" x2="733.6" y2="808.9"/><line x1="752.5" y1="644.2" x2="752.5" y2="808.9"/><line x1="771.4" y1="644.2" x2="771.4" y2="808.9"/><line x1="790.3" y1="644.2" x2="790.3" y2="808.9"/><line x1="809.2" y1="644.2" x2="809.2" y2="808.9"/><line x1="828.1" y1="644.2" x2="828.1" y2="808.9"/><line x1="847.0" y1="644.2" x2="847.0" y2="808.9"/><line x1="865.9" y1="644.2" x2="865.9" y2="808.9"/><line x1="884.7" y1="644.2" x2="884.7" y2="808.9"/><line x1="903.6" y1="644.2" x2="903.6" y2="808.9"/><line x1="727.3" y1="653.6" x2="910.6" y2="653.6"/><line x1="727.3" y1="672.5" x2="910.6" y2="672.5"/><line x1="727.3" y1="691.4" x2="910.6" y2="691.4"/><line x1="727.3" y1="710.3" x2="910.6" y2="710.3"/><line x1="727.3" y1="729.2" x2="910.6" y2="729.2"/><line x1="727.3" y1="748.1" x2="910.6" y2="748.1"/><line x1="727.3" y1="784.8" x2="910.6" y2="784.8"/><line x1="727.3" y1="803.7" x2="910.6" y2="803.7"/></g>
<g stroke="#20242a" stroke-width="1.25"><line x1="759.5" y1="645.3" x2="771.6" y2="645.3"/><line x1="759.5" y1="649.2" x2="771.6" y2="649.2"/><line x1="753.2" y1="653.0" x2="771.6" y2="653.0"/><line x1="759.5" y1="656.9" x2="771.6" y2="656.9"/><line x1="759.5" y1="660.7" x2="771.6" y2="660.7"/><line x1="759.5" y1="664.5" x2="771.6" y2="664.5"/><line x1="759.5" y1="668.4" x2="771.6" y2="668.4"/><line x1="755.3" y1="672.2" x2="771.6" y2="672.2"/><line x1="759.5" y1="676.1" x2="771.6" y2="676.1"/><line x1="759.5" y1="679.9" x2="771.6" y2="679.9"/><line x1="759.5" y1="683.7" x2="771.6" y2="683.7"/><line x1="759.5" y1="687.6" x2="771.6" y2="687.6"/><line x1="753.2" y1="691.4" x2="771.6" y2="691.4"/><line x1="759.5" y1="695.3" x2="771.6" y2="695.3"/><line x1="759.5" y1="699.1" x2="771.6" y2="699.1"/><line x1="759.5" y1="702.9" x2="771.6" y2="702.9"/><line x1="759.5" y1="706.8" x2="771.6" y2="706.8"/><line x1="755.3" y1="710.6" x2="771.6" y2="710.6"/><line x1="759.5" y1="714.5" x2="771.6" y2="714.5"/><line x1="759.5" y1="718.3" x2="771.6" y2="718.3"/><line x1="759.5" y1="722.1" x2="771.6" y2="722.1"/><line x1="759.5" y1="726.0" x2="771.6" y2="726.0"/><line x1="753.2" y1="729.8" x2="771.6" y2="729.8"/><line x1="759.5" y1="733.7" x2="771.6" y2="733.7"/><line x1="759.5" y1="737.5" x2="771.6" y2="737.5"/><line x1="759.5" y1="741.3" x2="771.6" y2="741.3"/><line x1="759.5" y1="745.2" x2="771.6" y2="745.2"/><line x1="866.9" y1="648.1" x2="879.1" y2="648.1"/><line x1="866.9" y1="652.0" x2="888.9" y2="652.0"/><line x1="866.9" y1="655.8" x2="879.1" y2="655.8"/><line x1="866.9" y1="659.6" x2="879.1" y2="659.6"/><line x1="866.9" y1="663.5" x2="879.1" y2="663.5"/><line x1="866.9" y1="667.3" x2="879.1" y2="667.3"/><line x1="866.9" y1="671.2" x2="884.7" y2="671.2"/><line x1="866.9" y1="675.0" x2="879.1" y2="675.0"/><line x1="866.9" y1="678.8" x2="879.1" y2="678.8"/><line x1="866.9" y1="682.7" x2="879.1" y2="682.7"/><line x1="866.9" y1="686.5" x2="879.1" y2="686.5"/><line x1="866.9" y1="690.4" x2="888.9" y2="690.4"/><line x1="866.9" y1="694.2" x2="879.1" y2="694.2"/><line x1="866.9" y1="698.0" x2="879.1" y2="698.0"/><line x1="866.9" y1="701.9" x2="879.1" y2="701.9"/><line x1="866.9" y1="705.7" x2="879.1" y2="705.7"/><line x1="866.9" y1="709.6" x2="884.7" y2="709.6"/><line x1="866.9" y1="713.4" x2="879.1" y2="713.4"/><line x1="866.9" y1="717.3" x2="879.1" y2="717.3"/><line x1="866.9" y1="721.1" x2="879.1" y2="721.1"/><line x1="866.9" y1="724.9" x2="879.1" y2="724.9"/><line x1="866.9" y1="728.8" x2="888.9" y2="728.8"/><line x1="866.9" y1="732.6" x2="879.1" y2="732.6"/><line x1="866.9" y1="736.5" x2="879.1" y2="736.5"/><line x1="866.9" y1="740.3" x2="879.1" y2="740.3"/><line x1="866.9" y1="744.1" x2="879.1" y2="744.1"/><line x1="866.9" y1="748.0" x2="884.7" y2="748.0"/><line x1="866.9" y1="751.8" x2="879.1" y2="751.8"/><line x1="726.1" y1="766.3" x2="726.1" y2="778.9"/><line x1="729.9" y1="766.3" x2="729.9" y2="778.9"/><line x1="733.6" y1="766.3" x2="733.6" y2="788.0"/><line x1="737.4" y1="766.3" x2="737.4" y2="778.9"/><line x1="741.2" y1="766.3" x2="741.2" y2="778.9"/><line x1="745.0" y1="766.3" x2="745.0" y2="778.9"/><line x1="748.8" y1="766.3" x2="748.8" y2="778.9"/><line x1="752.5" y1="766.3" x2="752.5" y2="783.8"/><line x1="756.3" y1="766.3" x2="756.3" y2="778.9"/><line x1="760.1" y1="766.3" x2="760.1" y2="778.9"/><line x1="763.9" y1="766.3" x2="763.9" y2="778.9"/><line x1="767.6" y1="766.3" x2="767.6" y2="778.9"/><line x1="771.4" y1="766.3" x2="771.4" y2="788.0"/><line x1="775.2" y1="766.3" x2="775.2" y2="778.9"/><line x1="779.0" y1="766.3" x2="779.0" y2="778.9"/><line x1="782.7" y1="766.3" x2="782.7" y2="778.9"/><line x1="786.5" y1="766.3" x2="786.5" y2="778.9"/><line x1="790.3" y1="766.3" x2="790.3" y2="783.8"/><line x1="794.1" y1="766.3" x2="794.1" y2="778.9"/><line x1="797.9" y1="766.3" x2="797.9" y2="778.9"/><line x1="801.6" y1="766.3" x2="801.6" y2="778.9"/><line x1="805.4" y1="766.3" x2="805.4" y2="778.9"/><line x1="809.2" y1="766.3" x2="809.2" y2="788.0"/><line x1="813.0" y1="766.3" x2="813.0" y2="778.9"/><line x1="816.7" y1="766.3" x2="816.7" y2="778.9"/><line x1="820.5" y1="766.3" x2="820.5" y2="778.9"/><line x1="824.3" y1="766.3" x2="824.3" y2="778.9"/><line x1="828.1" y1="766.3" x2="828.1" y2="783.8"/><line x1="831.9" y1="766.3" x2="831.9" y2="778.9"/><line x1="835.6" y1="766.3" x2="835.6" y2="778.9"/><line x1="839.4" y1="766.3" x2="839.4" y2="778.9"/><line x1="843.2" y1="766.3" x2="843.2" y2="778.9"/><line x1="847.0" y1="766.3" x2="847.0" y2="788.0"/><line x1="850.7" y1="766.3" x2="850.7" y2="778.9"/><line x1="854.5" y1="766.3" x2="854.5" y2="778.9"/><line x1="858.3" y1="766.3" x2="858.3" y2="778.9"/><line x1="862.1" y1="766.3" x2="862.1" y2="778.9"/><line x1="865.9" y1="766.3" x2="865.9" y2="783.8"/><line x1="869.6" y1="766.3" x2="869.6" y2="778.9"/><line x1="873.4" y1="766.3" x2="873.4" y2="778.9"/><line x1="877.2" y1="766.3" x2="877.2" y2="778.9"/><line x1="881.0" y1="766.3" x2="881.0" y2="778.9"/><line x1="884.7" y1="766.3" x2="884.7" y2="788.0"/><line x1="888.5" y1="766.3" x2="888.5" y2="778.9"/><line x1="892.3" y1="766.3" x2="892.3" y2="778.9"/><line x1="896.1" y1="766.3" x2="896.1" y2="778.9"/><line x1="899.9" y1="766.3" x2="899.9" y2="778.9"/><line x1="903.6" y1="766.3" x2="903.6" y2="783.8"/><line x1="907.4" y1="766.3" x2="907.4" y2="778.9"/><line x1="871.5" y1="765.5" x2="871.5" y2="755.4"/><line x1="875.3" y1="765.5" x2="875.3" y2="755.4"/><line x1="879.1" y1="765.5" x2="879.1" y2="755.4"/><line x1="882.9" y1="765.5" x2="882.9" y2="755.4"/><line x1="886.6" y1="765.5" x2="886.6" y2="749.1"/><line x1="890.4" y1="765.5" x2="890.4" y2="755.4"/><line x1="894.2" y1="765.5" x2="894.2" y2="755.4"/><line x1="898.0" y1="765.5" x2="898.0" y2="755.4"/><line x1="901.7" y1="765.5" x2="901.7" y2="755.4"/><line x1="905.5" y1="765.5" x2="905.5" y2="749.1"/><line x1="909.3" y1="765.5" x2="909.3" y2="755.4"/></g>
<line x1="727.30" y1="766.13" x2="910.60" y2="766.13" stroke="#2c3036" stroke-width="1.2" />
<path d="M867.5 765.5 L867.5 755.0 L879.9 755.0 M870.3 765.5 L870.3 757.9 L879.9 757.9 M873.2 765.5 L873.2 760.9 L879.9 760.9" fill="none" stroke="#20242a" stroke-width="0.9"/>
<g stroke="#aab2ba" stroke-width="0.9"><line x1="730.5" y1="754.4" x2="730.5" y2="761.7"/><line x1="734.3" y1="754.4" x2="734.3" y2="761.7"/><line x1="738.0" y1="754.4" x2="738.0" y2="761.7"/><line x1="741.8" y1="754.4" x2="741.8" y2="761.7"/><line x1="745.6" y1="754.4" x2="745.6" y2="761.7"/><line x1="749.4" y1="754.4" x2="749.4" y2="761.7"/><line x1="753.2" y1="754.4" x2="753.2" y2="761.7"/><line x1="756.9" y1="754.4" x2="756.9" y2="761.7"/><line x1="760.7" y1="754.4" x2="760.7" y2="761.7"/><line x1="764.5" y1="754.4" x2="764.5" y2="761.7"/><line x1="768.3" y1="754.4" x2="768.3" y2="761.7"/></g>
<text x="733.64" y="797.82" font-size="13" text-anchor="middle" fill="#17191d" font-weight="bold">2</text>
<text x="771.42" y="797.82" font-size="13" text-anchor="middle" fill="#17191d" font-weight="bold">3</text>
<text x="809.19" y="797.82" font-size="13" text-anchor="middle" fill="#17191d" font-weight="bold">4</text>
<text x="846.97" y="797.82" font-size="13" text-anchor="middle" fill="#17191d" font-weight="bold">5</text>
<text x="885.16" y="797.82" font-size="13" text-anchor="middle" fill="#17191d" font-weight="bold">6</text>
<text x="743.50" y="655.74" font-size="12.5" text-anchor="middle" fill="#17191d" transform="rotate(90 743.50 655.74)" font-weight="bold">3</text>
<text x="743.50" y="692.47" font-size="12.5" text-anchor="middle" fill="#17191d" transform="rotate(90 743.50 692.47)" font-weight="bold">4</text>
<text x="743.50" y="730.24" font-size="12.5" text-anchor="middle" fill="#17191d" transform="rotate(90 743.50 730.24)" font-weight="bold">5</text>
<text x="753.16" y="744.30" font-size="11" text-anchor="middle" fill="#17191d" transform="rotate(-90 753.16 744.30)" font-weight="bold">0</text>
<text x="743.50" y="744.30" font-size="8" text-anchor="middle" fill="#17191d" transform="rotate(-90 743.50 744.30)">cm</text>
<text x="900.06" y="652.59" font-size="12.5" text-anchor="middle" fill="#17191d" transform="rotate(-90 900.06 652.59)" font-weight="bold">3</text>
<text x="900.06" y="690.37" font-size="12.5" text-anchor="middle" fill="#17191d" transform="rotate(-90 900.06 690.37)" font-weight="bold">2</text>
<text x="900.06" y="722.27" font-size="9" text-anchor="middle" fill="#17191d" transform="rotate(-90 900.06 722.27)">1cm</text>
<text x="909.93" y="739.06" font-size="8" text-anchor="middle" fill="#17191d" transform="rotate(-90 909.93 739.06)">1</text>
<ellipse cx="819.6" cy="715.8" rx="48.2" ry="48.7" fill="#8f99a2" fill-opacity="0.55" filter="url(#b2)"/>
<circle cx="818.6" cy="716.8" r="46.2" fill="url(#lens1)"/>
<clipPath id="lensc"><circle cx="818.6" cy="716.8" r="45.7"/></clipPath>
<g clip-path="url(#lensc)">
<path d="M774.6 708.8 A45 45 0 0 1 862.6 708.8" fill="none" stroke="#8a949d" stroke-width="3" filter="url(#b15)" opacity="0.8"/>
<circle cx="818.6" cy="720.8" r="37.5" fill="#dfe5ea"/>
<path d="M781.1 720.8 A37.5 37.5 0 0 1 856.1 720.8 L856.1 717.8 Q818.6 728.8 781.1 720.8 Z" fill="#b3bdc6" filter="url(#b2)" opacity="0.9"/>
<circle cx="818.6" cy="720.8" r="37.5" fill="none" stroke="#7f8992" stroke-width="1.6" filter="url(#b1)" opacity="0.8"/>
<ellipse cx="796.6" cy="714.8" rx="7" ry="13" fill="#a3aeb8" filter="url(#b2)" opacity="0.8"/>
<ellipse cx="844.6" cy="710.8" rx="7" ry="12" fill="#c9d1d8" filter="url(#b2)" opacity="0.9" transform="rotate(-25 844.6 710.8)"/>
<ellipse cx="801.6" cy="732.8" rx="15" ry="17" fill="#ffffff" filter="url(#b2)"/>
<ellipse cx="830.6" cy="723.8" rx="16" ry="9" fill="#ffffff" filter="url(#b2)" transform="rotate(12 830.6 723.8)"/>
<ellipse cx="824.6" cy="746.8" rx="20" ry="9" fill="#f0f4f7" filter="url(#b3)" opacity="0.9"/>
<ellipse cx="817.6" cy="722.8" rx="3.2" ry="13" fill="#97a1aa" filter="url(#b15)" opacity="0.75"/>
<ellipse cx="840.6" cy="734.8" rx="4" ry="9" fill="#a9b3bc" filter="url(#b15)" opacity="0.8" transform="rotate(20 840.6 734.8)"/>
<g fill="none" stroke="#353c43" stroke-width="0.9" opacity="0.85"><path d="M800.6 688.8 Q806.6 698.8 810.6 701.8"/><path d="M834.6 684.8 Q842.6 690.8 845.6 698.8"/><path d="M823.6 704.8 L831.6 696.8"/><path d="M836.6 686.8 Q848.6 706.8 852.6 718.8"/><path d="M788.6 711.8 Q800.6 711.8 811.6 712.8"/><path d="M832.6 714.8 L848.6 717.8"/><path d="M840.6 732.8 L835.6 746.8"/></g>
<g fill="none" stroke="#ffffff" stroke-width="0.9" opacity="0.95"><path d="M814.6 708.8 L815.6 744.8"/><path d="M806.6 733.8 L828.6 731.8"/></g>
</g>
<circle cx="818.6" cy="716.8" r="45.800000000000004" fill="none" stroke="#9aa3ab" stroke-width="1" opacity="0.8"/>
<path d="M778.4 738.8 A43.2 43.2 0 0 0 854.8 742.8" fill="none" stroke="#f4efe0" stroke-width="2.2" opacity="0.8" filter="url(#b1)"/>
</g>
<clipPath id="ce2"><rect x="727.3" y="820.2" width="183.30000000000007" height="164.39999999999998"/></clipPath>
<g clip-path="url(#ce2)">
<rect x="727.30" y="820.20" width="183.30" height="102.41" fill="url(#wall)" />
<rect x="777.15" y="820.20" width="20.04" height="99.42" fill="#97937f" />
<rect x="799.58" y="820.20" width="83.73" height="27.65" fill="#8a8878" />
<rect x="881.82" y="820.20" width="28.78" height="93.44" fill="#85806c" />
<rect x="822.90" y="820.20" width="30.50" height="25.25" fill="#4e4d2c" />
<rect x="848.02" y="820.20" width="2.20" height="17.18" fill="#d8d890" />
<rect x="829.48" y="825.42" width="17.94" height="19.44" fill="#6a6a3c" opacity="0.8"/>
<rect x="794.20" y="828.41" width="5.00" height="8.00" fill="#b9b6a8" />
<rect x="898.86" y="845.45" width="9.00" height="9.50" fill="#d9d9d0" />
<rect x="727.30" y="919.62" width="183.30" height="64.98" fill="url(#floor)" />
<g fill="#252525" opacity="0.8"><rect x="736.4" y="929.4" width="1.18" height="0.81"/><rect x="742.2" y="929.4" width="1.18" height="0.81"/><rect x="748.1" y="929.4" width="1.18" height="0.81"/><rect x="754.0" y="929.4" width="1.18" height="0.81"/><rect x="759.9" y="929.4" width="1.18" height="0.81"/><rect x="765.8" y="929.4" width="1.18" height="0.81"/><rect x="771.6" y="929.4" width="1.18" height="0.81"/><rect x="777.5" y="929.4" width="1.18" height="0.81"/><rect x="783.4" y="929.4" width="1.18" height="0.81"/><rect x="789.3" y="929.4" width="1.18" height="0.81"/><rect x="795.1" y="929.4" width="1.18" height="0.81"/><rect x="801.0" y="929.4" width="1.18" height="0.81"/><rect x="806.9" y="929.4" width="1.18" height="0.81"/><rect x="812.8" y="929.4" width="1.18" height="0.81"/><rect x="818.6" y="929.4" width="1.18" height="0.81"/><rect x="824.5" y="929.4" width="1.18" height="0.81"/><rect x="830.4" y="929.4" width="1.18" height="0.81"/><rect x="836.3" y="929.4" width="1.18" height="0.81"/><rect x="842.1" y="929.4" width="1.18" height="0.81"/><rect x="848.0" y="929.4" width="1.18" height="0.81"/><rect x="853.9" y="929.4" width="1.18" height="0.81"/><rect x="859.8" y="929.4" width="1.18" height="0.81"/><rect x="865.6" y="929.4" width="1.18" height="0.81"/><rect x="871.5" y="929.4" width="1.18" height="0.81"/><rect x="877.4" y="929.4" width="1.18" height="0.81"/><rect x="883.3" y="929.4" width="1.18" height="0.81"/><rect x="889.2" y="929.4" width="1.18" height="0.81"/><rect x="895.0" y="929.4" width="1.18" height="0.81"/><rect x="900.9" y="929.4" width="1.18" height="0.81"/><rect x="730.2" y="933.6" width="1.32" height="0.89"/><rect x="736.5" y="933.6" width="1.32" height="0.89"/><rect x="742.8" y="933.6" width="1.32" height="0.89"/><rect x="749.2" y="933.6" width="1.32" height="0.89"/><rect x="755.5" y="933.6" width="1.32" height="0.89"/><rect x="761.8" y="933.6" width="1.32" height="0.89"/><rect x="768.1" y="933.6" width="1.32" height="0.89"/><rect x="774.4" y="933.6" width="1.32" height="0.89"/><rect x="780.7" y="933.6" width="1.32" height="0.89"/><rect x="787.1" y="933.6" width="1.32" height="0.89"/><rect x="793.4" y="933.6" width="1.32" height="0.89"/><rect x="799.7" y="933.6" width="1.32" height="0.89"/><rect x="806.0" y="933.6" width="1.32" height="0.89"/><rect x="812.3" y="933.6" width="1.32" height="0.89"/><rect x="818.6" y="933.6" width="1.32" height="0.89"/><rect x="825.0" y="933.6" width="1.32" height="0.89"/><rect x="831.3" y="933.6" width="1.32" height="0.89"/><rect x="837.6" y="933.6" width="1.32" height="0.89"/><rect x="843.9" y="933.6" width="1.32" height="0.89"/><rect x="850.2" y="933.6" width="1.32" height="0.89"/><rect x="856.5" y="933.6" width="1.32" height="0.89"/><rect x="862.9" y="933.6" width="1.32" height="0.89"/><rect x="869.2" y="933.6" width="1.32" height="0.89"/><rect x="875.5" y="933.6" width="1.32" height="0.89"/><rect x="881.8" y="933.6" width="1.32" height="0.89"/><rect x="888.1" y="933.6" width="1.32" height="0.89"/><rect x="894.4" y="933.6" width="1.32" height="0.89"/><rect x="900.8" y="933.6" width="1.32" height="0.89"/><rect x="907.1" y="933.6" width="1.32" height="0.89"/><rect x="729.9" y="938.4" width="1.49" height="0.98"/><rect x="736.8" y="938.4" width="1.49" height="0.98"/><rect x="743.6" y="938.4" width="1.49" height="0.98"/><rect x="750.4" y="938.4" width="1.49" height="0.98"/><rect x="757.2" y="938.4" width="1.49" height="0.98"/><rect x="764.0" y="938.4" width="1.49" height="0.98"/><rect x="770.9" y="938.4" width="1.49" height="0.98"/><rect x="777.7" y="938.4" width="1.49" height="0.98"/><rect x="784.5" y="938.4" width="1.49" height="0.98"/><rect x="791.3" y="938.4" width="1.49" height="0.98"/><rect x="798.2" y="938.4" width="1.49" height="0.98"/><rect x="805.0" y="938.4" width="1.49" height="0.98"/><rect x="811.8" y="938.4" width="1.49" height="0.98"/><rect x="818.6" y="938.4" width="1.49" height="0.98"/><rect x="825.5" y="938.4" width="1.49" height="0.98"/><rect x="832.3" y="938.4" width="1.49" height="0.98"/><rect x="839.1" y="938.4" width="1.49" height="0.98"/><rect x="845.9" y="938.4" width="1.49" height="0.98"/><rect x="852.8" y="938.4" width="1.49" height="0.98"/><rect x="859.6" y="938.4" width="1.49" height="0.98"/><rect x="866.4" y="938.4" width="1.49" height="0.98"/><rect x="873.2" y="938.4" width="1.49" height="0.98"/><rect x="880.0" y="938.4" width="1.49" height="0.98"/><rect x="886.9" y="938.4" width="1.49" height="0.98"/><rect x="893.7" y="938.4" width="1.49" height="0.98"/><rect x="900.5" y="938.4" width="1.49" height="0.98"/><rect x="907.3" y="938.4" width="1.49" height="0.98"/><rect x="730.4" y="943.4" width="1.67" height="1.08"/><rect x="737.8" y="943.4" width="1.67" height="1.08"/><rect x="745.1" y="943.4" width="1.67" height="1.08"/><rect x="752.5" y="943.4" width="1.67" height="1.08"/><rect x="759.8" y="943.4" width="1.67" height="1.08"/><rect x="767.2" y="943.4" width="1.67" height="1.08"/><rect x="774.5" y="943.4" width="1.67" height="1.08"/><rect x="781.9" y="943.4" width="1.67" height="1.08"/><rect x="789.2" y="943.4" width="1.67" height="1.08"/><rect x="796.6" y="943.4" width="1.67" height="1.08"/><rect x="803.9" y="943.4" width="1.67" height="1.08"/><rect x="811.3" y="943.4" width="1.67" height="1.08"/><rect x="818.6" y="943.4" width="1.67" height="1.08"/><rect x="826.0" y="943.4" width="1.67" height="1.08"/><rect x="833.3" y="943.4" width="1.67" height="1.08"/><rect x="840.7" y="943.4" width="1.67" height="1.08"/><rect x="848.0" y="943.4" width="1.67" height="1.08"/><rect x="855.4" y="943.4" width="1.67" height="1.08"/><rect x="862.8" y="943.4" width="1.67" height="1.08"/><rect x="870.1" y="943.4" width="1.67" height="1.08"/><rect x="877.5" y="943.4" width="1.67" height="1.08"/><rect x="884.8" y="943.4" width="1.67" height="1.08"/><rect x="892.2" y="943.4" width="1.67" height="1.08"/><rect x="899.5" y="943.4" width="1.67" height="1.08"/><rect x="906.9" y="943.4" width="1.67" height="1.08"/><rect x="729.8" y="950.4" width="1.91" height="1.21"/><rect x="737.8" y="950.4" width="1.91" height="1.21"/><rect x="745.9" y="950.4" width="1.91" height="1.21"/><rect x="754.0" y="950.4" width="1.91" height="1.21"/><rect x="762.1" y="950.4" width="1.91" height="1.21"/><rect x="770.2" y="950.4" width="1.91" height="1.21"/><rect x="778.2" y="950.4" width="1.91" height="1.21"/><rect x="786.3" y="950.4" width="1.91" height="1.21"/><rect x="794.4" y="950.4" width="1.91" height="1.21"/><rect x="802.5" y="950.4" width="1.91" height="1.21"/><rect x="810.6" y="950.4" width="1.91" height="1.21"/><rect x="818.6" y="950.4" width="1.91" height="1.21"/><rect x="826.7" y="950.4" width="1.91" height="1.21"/><rect x="834.8" y="950.4" width="1.91" height="1.21"/><rect x="842.9" y="950.4" width="1.91" height="1.21"/><rect x="851.0" y="950.4" width="1.91" height="1.21"/><rect x="859.0" y="950.4" width="1.91" height="1.21"/><rect x="867.1" y="950.4" width="1.91" height="1.21"/><rect x="875.2" y="950.4" width="1.91" height="1.21"/><rect x="883.3" y="950.4" width="1.91" height="1.21"/><rect x="891.4" y="950.4" width="1.91" height="1.21"/><rect x="899.4" y="950.4" width="1.91" height="1.21"/><rect x="907.5" y="950.4" width="1.91" height="1.21"/><rect x="731.2" y="956.7" width="2.14" height="1.33"/><rect x="740.0" y="956.7" width="2.14" height="1.33"/><rect x="748.7" y="956.7" width="2.14" height="1.33"/><rect x="757.5" y="956.7" width="2.14" height="1.33"/><rect x="766.2" y="956.7" width="2.14" height="1.33"/><rect x="774.9" y="956.7" width="2.14" height="1.33"/><rect x="783.7" y="956.7" width="2.14" height="1.33"/><rect x="792.4" y="956.7" width="2.14" height="1.33"/><rect x="801.2" y="956.7" width="2.14" height="1.33"/><rect x="809.9" y="956.7" width="2.14" height="1.33"/><rect x="818.6" y="956.7" width="2.14" height="1.33"/><rect x="827.4" y="956.7" width="2.14" height="1.33"/><rect x="836.1" y="956.7" width="2.14" height="1.33"/><rect x="844.9" y="956.7" width="2.14" height="1.33"/><rect x="853.6" y="956.7" width="2.14" height="1.33"/><rect x="862.3" y="956.7" width="2.14" height="1.33"/><rect x="871.1" y="956.7" width="2.14" height="1.33"/><rect x="879.8" y="956.7" width="2.14" height="1.33"/><rect x="888.6" y="956.7" width="2.14" height="1.33"/><rect x="897.3" y="956.7" width="2.14" height="1.33"/><rect x="906.0" y="956.7" width="2.14" height="1.33"/><rect x="733.0" y="964.0" width="2.39" height="1.47"/><rect x="742.5" y="964.0" width="2.39" height="1.47"/><rect x="752.1" y="964.0" width="2.39" height="1.47"/><rect x="761.6" y="964.0" width="2.39" height="1.47"/><rect x="771.1" y="964.0" width="2.39" height="1.47"/><rect x="780.6" y="964.0" width="2.39" height="1.47"/><rect x="790.1" y="964.0" width="2.39" height="1.47"/><rect x="799.6" y="964.0" width="2.39" height="1.47"/><rect x="809.1" y="964.0" width="2.39" height="1.47"/><rect x="818.6" y="964.0" width="2.39" height="1.47"/><rect x="828.1" y="964.0" width="2.39" height="1.47"/><rect x="837.7" y="964.0" width="2.39" height="1.47"/><rect x="847.2" y="964.0" width="2.39" height="1.47"/><rect x="856.7" y="964.0" width="2.39" height="1.47"/><rect x="866.2" y="964.0" width="2.39" height="1.47"/><rect x="875.7" y="964.0" width="2.39" height="1.47"/><rect x="885.2" y="964.0" width="2.39" height="1.47"/><rect x="894.7" y="964.0" width="2.39" height="1.47"/><rect x="904.2" y="964.0" width="2.39" height="1.47"/><rect x="736.4" y="971.3" width="2.65" height="1.61"/><rect x="746.7" y="971.3" width="2.65" height="1.61"/><rect x="756.9" y="971.3" width="2.65" height="1.61"/><rect x="767.2" y="971.3" width="2.65" height="1.61"/><rect x="777.5" y="971.3" width="2.65" height="1.61"/><rect x="787.8" y="971.3" width="2.65" height="1.61"/><rect x="798.1" y="971.3" width="2.65" height="1.61"/><rect x="808.4" y="971.3" width="2.65" height="1.61"/><rect x="818.6" y="971.3" width="2.65" height="1.61"/><rect x="828.9" y="971.3" width="2.65" height="1.61"/><rect x="839.2" y="971.3" width="2.65" height="1.61"/><rect x="849.5" y="971.3" width="2.65" height="1.61"/><rect x="859.8" y="971.3" width="2.65" height="1.61"/><rect x="870.1" y="971.3" width="2.65" height="1.61"/><rect x="880.3" y="971.3" width="2.65" height="1.61"/><rect x="890.6" y="971.3" width="2.65" height="1.61"/><rect x="900.9" y="971.3" width="2.65" height="1.61"/><rect x="730.6" y="978.3" width="2.90" height="1.74"/><rect x="741.6" y="978.3" width="2.90" height="1.74"/><rect x="752.6" y="978.3" width="2.90" height="1.74"/><rect x="763.6" y="978.3" width="2.90" height="1.74"/><rect x="774.6" y="978.3" width="2.90" height="1.74"/><rect x="785.6" y="978.3" width="2.90" height="1.74"/><rect x="796.6" y="978.3" width="2.90" height="1.74"/><rect x="807.6" y="978.3" width="2.90" height="1.74"/><rect x="818.6" y="978.3" width="2.90" height="1.74"/><rect x="829.6" y="978.3" width="2.90" height="1.74"/><rect x="840.7" y="978.3" width="2.90" height="1.74"/><rect x="851.7" y="978.3" width="2.90" height="1.74"/><rect x="862.7" y="978.3" width="2.90" height="1.74"/><rect x="873.7" y="978.3" width="2.90" height="1.74"/><rect x="884.7" y="978.3" width="2.90" height="1.74"/><rect x="895.7" y="978.3" width="2.90" height="1.74"/><rect x="906.7" y="978.3" width="2.90" height="1.74"/></g>
<rect x="727.30" y="923.08" width="183.30" height="5.00" fill="#5f5e5a" opacity="0.55" filter="url(#b2)"/>
<rect x="799.58" y="844.86" width="77.75" height="78.35" fill="url(#scr)" />
<ellipse cx="838.5" cy="886.7" rx="27" ry="27" fill="#d6d6de" filter="url(#b8)"/>
<g filter="url(#b2)" font-family="'Liberation Sans', sans-serif" font-style="italic" font-size="96.70" stroke-linejoin="round" stroke-linecap="round" >
<g fill="#d2d2e0" stroke="#d2d2e0" stroke-width="5">
<text transform="translate(807.64 911.06) scale(0.8961 1)">π</text>
<path d="M818.14 863.19 Q812.64 862.91 809.34 870.93" fill="none" stroke="#d2d2e0" stroke-width="8.38"/>
</g>
<g fill="#e0e0ee" stroke="#e0e0ee" stroke-width="2.6">
<text transform="translate(807.64 911.06) scale(0.8961 1)">π</text>
<path d="M818.14 863.19 Q812.64 862.91 809.34 870.93" fill="none" stroke="#e0e0ee" stroke-width="5.98"/>
</g>
</g>
<g filter="url(#b15)" opacity="0.92" font-family="'Liberation Sans', sans-serif" font-style="italic" font-size="96.70" stroke-linejoin="round" stroke-linecap="round" >
<g fill="#f4f4fc" stroke="#f4f4fc" stroke-width="0.6">
<text transform="translate(807.64 911.06) scale(0.8961 1)">π</text>
<path d="M818.14 863.19 Q812.64 862.91 809.34 870.93" fill="none" stroke="#f4f4fc" stroke-width="3.98"/>
</g>
</g>
<rect x="798.08" y="877.75" width="5.98" height="26.32" fill="#1d1d1f" />
<rect x="872.25" y="880.14" width="7.48" height="15.55" fill="#1d1d1f" />
<rect x="784.63" y="888.22" width="14.06" height="2.20" fill="#b8b8b4" />
<rect x="878.83" y="886.12" width="10.47" height="2.20" fill="#b8b8b4" />
<rect x="782.53" y="876.26" width="1.80" height="43.36" fill="#2a2a2a" />
<rect x="780.44" y="911.24" width="7.50" height="11.96" fill="#151515" />
<rect x="881.82" y="906.16" width="25.42" height="16.45" fill="#141414" />
<rect x="887.80" y="883.73" width="23.03" height="23.92" fill="#1a1a1c" />
<rect x="894.38" y="886.12" width="16.45" height="10.17" fill="#1838c8" />
<rect x="895.87" y="888.52" width="12.86" height="1.40" fill="#6090ff" />
<rect x="889.29" y="880.14" width="4.00" height="5.00" fill="#101010" />
<path d="M724.2 841.9 L738.9 841.9 Q762.0 848.6 779.8 866.4 Q784.0 878.0 782.5 897.9 Q779.8 905.2 765.1 907.3 L763.0 924.1 Q762.0 940.9 756.7 949.3 L724.2 952.5 Z" fill="#171613" filter="url(#b2)"/>
<path d="M756.7 855.9 Q775.0 878.0 765.1 906.3" fill="none" stroke="#77776f" stroke-width="7" filter="url(#b2)" opacity="0.9"/>
<path d="M751.5 852.8 Q765.1 878.0 757.8 907.3" fill="none" stroke="#2c2b28" stroke-width="5" filter="url(#b2)" opacity="0.9"/>
<ellipse cx="733.6" cy="924.1" rx="5" ry="6" fill="#34332f" filter="url(#b2)"/>
</g>
</svg>
</body></html>
